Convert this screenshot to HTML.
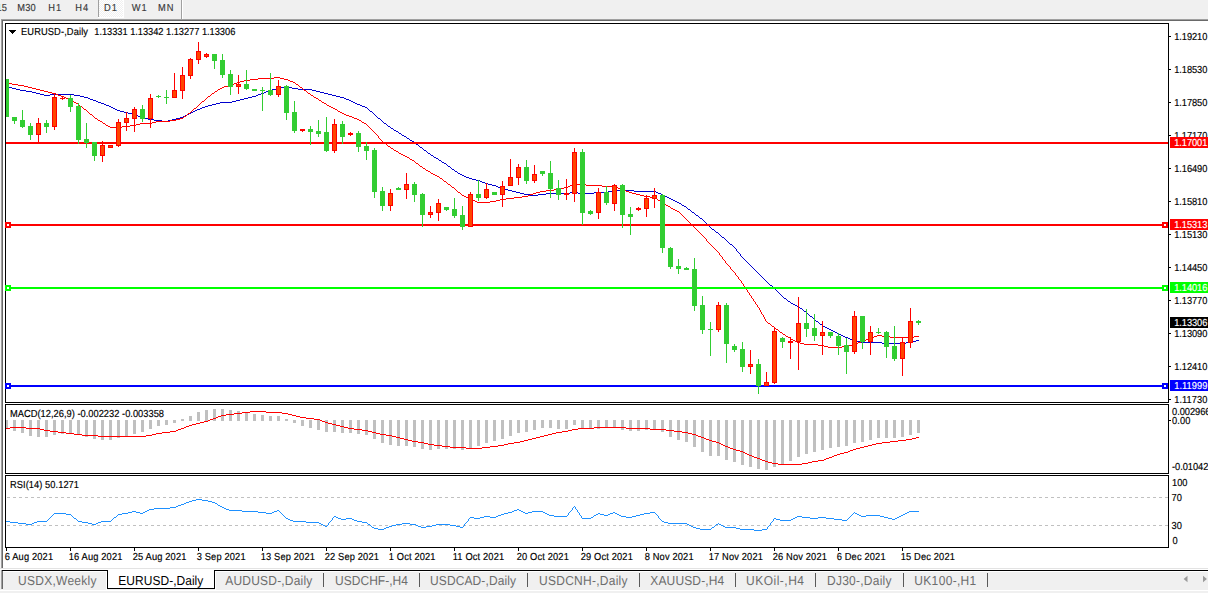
<!DOCTYPE html>
<html><head><meta charset="utf-8"><title>EURUSD-,Daily</title>
<style>html,body{margin:0;padding:0;background:#fff;overflow:hidden}svg{display:block}text{font-family:"Liberation Sans", sans-serif;white-space:pre;text-rendering:geometricPrecision}</style>
</head><body>
<svg width="1208" height="593" viewBox="0 0 1208 593">
<rect x="0" y="0" width="1208" height="593" fill="#ffffff"/>
<rect x="0" y="0" width="1208" height="19" fill="#f0f0f0"/>
<defs><pattern id="chk" width="2" height="2" patternUnits="userSpaceOnUse"><rect width="2" height="2" fill="#f0f0f0"/><rect width="1" height="1" fill="#fff"/><rect x="1" y="1" width="1" height="1" fill="#fff"/></pattern></defs>
<rect x="99" y="0" width="24" height="17" fill="url(#chk)" shape-rendering="crispEdges"/>
<rect x="98" y="0" width="1" height="17" fill="#a0a0a0"/>
<rect x="98" y="17" width="26" height="1" fill="#ffffff"/>
<rect x="123" y="0" width="1" height="17" fill="#ffffff"/>
<rect x="181" y="0" width="1" height="19" fill="#a0a0a0"/>
<rect x="182" y="0" width="1" height="19" fill="#ffffff"/>
<rect x="0" y="19" width="1208" height="1" fill="#a0a0a0"/>
<rect x="0" y="20" width="1208" height="1" fill="#696969"/>
<rect x="0" y="19" width="1" height="549" fill="#f4f4f4"/>
<rect x="1" y="19" width="1" height="549" fill="#a0a0a0"/>
<rect x="2" y="20" width="1" height="548" fill="#696969"/>
<text transform="translate(-3.6,11) scale(1,1.095)" font-size="9.3" fill="#3a3a3a" stroke="#3a3a3a" stroke-width="0.15" letter-spacing="0.3">15</text>
<text transform="translate(17.3,11) scale(1,1.095)" font-size="9.3" fill="#3a3a3a" stroke="#3a3a3a" stroke-width="0.15" letter-spacing="0.1">M30</text>
<text transform="translate(48.3,11) scale(1,1.095)" font-size="9.3" fill="#3a3a3a" stroke="#3a3a3a" stroke-width="0.15" letter-spacing="0.9">H1</text>
<text transform="translate(75.3,11) scale(1,1.095)" font-size="9.3" fill="#3a3a3a" stroke="#3a3a3a" stroke-width="0.15" letter-spacing="1.0">H4</text>
<text transform="translate(104.1,11) scale(1,1.095)" font-size="9.3" fill="#3a3a3a" stroke="#3a3a3a" stroke-width="0.15" letter-spacing="1.0">D1</text>
<text transform="translate(131.8,11) scale(1,1.095)" font-size="9.3" fill="#3a3a3a" stroke="#3a3a3a" stroke-width="0.15" letter-spacing="1.0">W1</text>
<text transform="translate(158.1,11) scale(1,1.095)" font-size="9.3" fill="#3a3a3a" stroke="#3a3a3a" stroke-width="0.15" letter-spacing="1.0">MN</text>
<path d="M6 86.5h2M284 86.5h4M8 87.5h4M280 87.5h4M288 87.5h4M12 88.5h4M276 88.5h4M292 88.5h6M16 89.5h4M272 89.5h4M298 89.5h14M20 90.5h6M269 90.5h3M312 90.5h4M26 91.5h6M266 91.5h3M316 91.5h4M32 92.5h4M264 92.5h2M320 92.5h4M36 93.5h4M261 93.5h3M324 93.5h4M40 94.5h4M50 94.5h24M258 94.5h3M328 94.5h4M44 95.5h6M74 95.5h6M256 95.5h2M332 95.5h4M80 96.5h4M252 96.5h4M336 96.5h4M84 97.5h4M248 97.5h4M340 97.5h4M88 98.5h2M244 98.5h4M344 98.5h2M90 99.5h3M240 99.5h4M346 99.5h3M93 100.5h3M236 100.5h4M349 100.5h2M96 101.5h2M232 101.5h4M351 101.5h2M98 102.5h3M220 102.5h12M353 102.5h2M101 103.5h3M216 103.5h4M355 103.5h2M104 104.5h2M212 104.5h4M357 104.5h3M106 105.5h3M208 105.5h4M360 105.5h2M109 106.5h2M205 106.5h3M362 106.5h3M111 107.5h2M202 107.5h3M365 107.5h2M113 108.5h2M200 108.5h2M367 108.5h1M115 109.5h2M197 109.5h3M368 109.5h1M117 110.5h3M195 110.5h2M369 110.5h1M120 111.5h4M193 111.5h2M370 111.5h2M124 112.5h4M191 112.5h2M372 112.5h1M128 113.5h4M189 113.5h2M373 113.5h1M132 114.5h4M187 114.5h2M374 114.5h1M136 115.5h2M185 115.5h2M375 115.5h1M138 116.5h3M183 116.5h2M376 116.5h1M141 117.5h3M180 117.5h3M377 117.5h1M144 118.5h4M176 118.5h4M378 118.5h2M148 119.5h6M172 119.5h4M380 119.5h1M154 120.5h8M168 120.5h4M381 120.5h1M162 121.5h6M382 121.5h1M383 122.5h1M384 123.5h2M386 124.5h1M387 125.5h1M388 126.5h2M390 127.5h1M391 128.5h2M393 129.5h1M394 130.5h2M396 131.5h2M398 132.5h1M399 133.5h2M401 134.5h1M402 135.5h2M404 136.5h2M406 137.5h1M407 138.5h2M409 139.5h1M410 140.5h2M412 141.5h2M414 142.5h1M415 143.5h1M416 144.5h2M418 145.5h1M419 146.5h1M420 147.5h2M422 148.5h1M423 149.5h1M424 150.5h2M426 151.5h1M427 152.5h1M428 153.5h2M430 154.5h1M431 155.5h2M433 156.5h1M434 157.5h2M436 158.5h2M438 159.5h1M439 160.5h2M441 161.5h1M442 162.5h2M444 163.5h2M446 164.5h1M447 165.5h1M448 166.5h2M450 167.5h1M451 168.5h1M452 169.5h2M454 170.5h1M455 171.5h2M457 172.5h1M458 173.5h2M460 174.5h2M462 175.5h2M464 176.5h2M466 177.5h3M469 178.5h3M472 179.5h4M476 180.5h4M480 181.5h2M482 182.5h3M485 183.5h3M488 184.5h4M492 185.5h4M496 186.5h2M498 187.5h3M501 188.5h3M504 189.5h4M508 190.5h4M612 190.5h22M512 191.5h4M608 191.5h4M634 191.5h22M516 192.5h4M570 192.5h8M594 192.5h14M656 192.5h2M520 193.5h4M546 193.5h24M578 193.5h16M658 193.5h3M524 194.5h6M538 194.5h8M661 194.5h2M530 195.5h8M663 195.5h2M665 196.5h2M667 197.5h2M669 198.5h2M671 199.5h2M673 200.5h2M675 201.5h2M677 202.5h2M679 203.5h2M681 204.5h1M682 205.5h2M684 206.5h2M686 207.5h1M687 208.5h1M688 209.5h2M690 210.5h1M691 211.5h1M692 212.5h2M694 213.5h1M695 214.5h1M696 215.5h2M698 216.5h1M699 217.5h1M700 218.5h2M702 219.5h1M703 220.5h1M704 221.5h1M705 222.5h1M706 223.5h1M707 224.5h1M708 225.5h1M709 226.5h1M710 227.5h1M711 228.5h1M712 229.5h2M714 230.5h1M715 231.5h1M716 232.5h2M718 233.5h1M719 234.5h1M720 235.5h1M721 236.5h1M722 237.5h2M724 238.5h1M725 239.5h1M726 240.5h1M727 241.5h1M728 242.5h1M729 243.5h1M730 244.5h2M732 245.5h1M733 246.5h1M734 247.5h1M735 248.5h1M736 249.5h1M736 250.5h1M737 251.5h1M738 252.5h1M739 253.5h1M740 254.5h1M740 255.5h1M741 256.5h1M742 257.5h1M743 258.5h1M744 259.5h1M745 260.5h1M746 261.5h1M747 262.5h1M748 263.5h1M749 264.5h1M750 265.5h1M751 266.5h1M752 267.5h1M753 268.5h1M754 269.5h1M755 270.5h1M756 271.5h1M757 272.5h1M758 273.5h1M759 274.5h1M760 275.5h1M761 276.5h1M762 277.5h1M763 278.5h1M764 279.5h1M765 280.5h1M766 281.5h1M767 282.5h1M768 283.5h1M769 284.5h1M770 285.5h2M772 286.5h1M773 287.5h1M774 288.5h1M775 289.5h1M776 290.5h1M777 291.5h1M778 292.5h1M779 293.5h1M780 294.5h1M781 295.5h1M782 296.5h1M783 297.5h1M784 298.5h2M786 299.5h1M787 300.5h1M788 301.5h2M790 302.5h1M791 303.5h2M793 304.5h2M795 305.5h2M797 306.5h2M799 307.5h1M800 308.5h2M802 309.5h1M803 310.5h1M804 311.5h2M806 312.5h1M807 313.5h1M808 314.5h1M809 315.5h1M810 316.5h2M812 317.5h1M813 318.5h1M814 319.5h1M815 320.5h1M816 321.5h2M818 322.5h1M819 323.5h1M820 324.5h2M822 325.5h1M823 326.5h2M825 327.5h2M827 328.5h2M829 329.5h2M831 330.5h2M833 331.5h2M835 332.5h2M837 333.5h2M839 334.5h2M841 335.5h2M843 336.5h2M845 337.5h3M848 338.5h2M850 339.5h3M853 340.5h3M916 340.5h3M856 341.5h4M912 341.5h4M860 342.5h22M906 342.5h6M882 343.5h24" fill="none" stroke="#0000cd" stroke-width="1" shape-rendering="crispEdges"/>
<path d="M274 77.5h6M258 78.5h16M280 78.5h4M250 79.5h8M284 79.5h4M244 80.5h6M288 80.5h2M240 81.5h4M290 81.5h3M6 82.5h2M237 82.5h3M293 82.5h2M8 83.5h4M234 83.5h3M295 83.5h1M12 84.5h6M232 84.5h2M296 84.5h2M18 85.5h6M228 85.5h4M298 85.5h1M24 86.5h4M224 86.5h4M299 86.5h1M28 87.5h4M222 87.5h2M300 87.5h2M32 88.5h4M220 88.5h2M302 88.5h1M36 89.5h4M218 89.5h2M303 89.5h1M40 90.5h4M217 90.5h1M304 90.5h2M44 91.5h4M215 91.5h2M306 91.5h1M48 92.5h4M214 92.5h1M307 92.5h1M52 93.5h4M212 93.5h2M308 93.5h2M56 94.5h2M211 94.5h1M310 94.5h1M58 95.5h3M210 95.5h1M311 95.5h2M61 96.5h3M208 96.5h2M313 96.5h1M64 97.5h2M207 97.5h1M314 97.5h2M66 98.5h3M206 98.5h1M316 98.5h2M69 99.5h2M205 99.5h1M318 99.5h1M71 100.5h2M204 100.5h1M319 100.5h2M73 101.5h1M202 101.5h2M321 101.5h1M74 102.5h2M201 102.5h1M322 102.5h2M76 103.5h2M200 103.5h1M324 103.5h2M78 104.5h1M199 104.5h1M326 104.5h1M79 105.5h1M198 105.5h1M327 105.5h2M80 106.5h2M197 106.5h1M329 106.5h2M82 107.5h1M196 107.5h1M331 107.5h2M83 108.5h1M194 108.5h2M333 108.5h2M84 109.5h2M193 109.5h1M335 109.5h2M86 110.5h1M192 110.5h1M337 110.5h1M87 111.5h1M191 111.5h1M338 111.5h2M88 112.5h1M190 112.5h1M340 112.5h2M89 113.5h1M188 113.5h2M342 113.5h2M90 114.5h2M187 114.5h1M344 114.5h2M92 115.5h1M186 115.5h1M346 115.5h3M93 116.5h1M184 116.5h2M349 116.5h3M94 117.5h1M183 117.5h1M352 117.5h2M95 118.5h2M180 118.5h3M354 118.5h3M97 119.5h1M176 119.5h4M357 119.5h2M98 120.5h2M170 120.5h6M359 120.5h2M100 121.5h2M156 121.5h14M361 121.5h1M102 122.5h1M152 122.5h4M362 122.5h2M103 123.5h2M140 123.5h12M364 123.5h2M105 124.5h1M136 124.5h4M366 124.5h1M106 125.5h2M130 125.5h6M367 125.5h1M108 126.5h2M122 126.5h8M368 126.5h1M110 127.5h12M369 127.5h1M370 128.5h1M371 129.5h1M372 130.5h1M373 131.5h1M374 132.5h1M375 133.5h1M376 134.5h1M377 135.5h1M378 136.5h1M378 137.5h1M379 138.5h1M380 139.5h1M381 140.5h1M382 141.5h1M383 142.5h1M384 143.5h2M386 144.5h1M387 145.5h1M388 146.5h2M390 147.5h1M391 148.5h2M393 149.5h1M394 150.5h2M396 151.5h2M398 152.5h1M399 153.5h2M401 154.5h2M403 155.5h2M405 156.5h2M407 157.5h2M409 158.5h1M410 159.5h2M412 160.5h2M414 161.5h1M415 162.5h1M416 163.5h2M418 164.5h1M419 165.5h1M420 166.5h2M422 167.5h1M423 168.5h2M425 169.5h1M426 170.5h2M428 171.5h2M430 172.5h1M431 173.5h2M433 174.5h2M435 175.5h2M437 176.5h2M439 177.5h1M440 178.5h2M442 179.5h1M443 180.5h1M444 181.5h2M446 182.5h1M447 183.5h1M448 184.5h2M573 184.5h13M450 185.5h1M570 185.5h3M586 185.5h16M451 186.5h1M568 186.5h2M602 186.5h14M452 187.5h2M564 187.5h4M616 187.5h2M454 188.5h1M560 188.5h4M618 188.5h3M455 189.5h1M554 189.5h6M621 189.5h3M456 190.5h1M546 190.5h8M624 190.5h2M457 191.5h1M540 191.5h6M626 191.5h3M458 192.5h2M536 192.5h4M629 192.5h3M460 193.5h1M533 193.5h3M632 193.5h4M461 194.5h1M530 194.5h3M636 194.5h4M462 195.5h2M528 195.5h2M640 195.5h4M464 196.5h2M522 196.5h6M644 196.5h6M466 197.5h3M514 197.5h8M650 197.5h5M469 198.5h2M506 198.5h8M655 198.5h2M471 199.5h2M500 199.5h6M657 199.5h1M473 200.5h2M496 200.5h4M658 200.5h2M475 201.5h2M490 201.5h6M660 201.5h2M477 202.5h13M662 202.5h1M663 203.5h2M665 204.5h1M666 205.5h2M668 206.5h2M670 207.5h1M671 208.5h2M673 209.5h2M675 210.5h2M677 211.5h2M679 212.5h1M680 213.5h1M681 214.5h1M682 215.5h1M683 216.5h1M684 217.5h1M685 218.5h1M686 219.5h1M687 220.5h1M688 221.5h1M689 222.5h1M690 223.5h1M691 224.5h1M692 225.5h1M693 226.5h1M694 227.5h1M695 228.5h1M696 229.5h1M697 230.5h1M698 231.5h1M699 232.5h1M700 233.5h1M701 234.5h1M702 235.5h1M703 236.5h1M704 237.5h1M705 238.5h1M706 239.5h1M706 240.5h1M707 241.5h1M708 242.5h1M709 243.5h1M710 244.5h1M711 245.5h1M712 246.5h1M713 247.5h1M714 248.5h1M715 249.5h1M716 250.5h1M717 251.5h1M718 252.5h1M719 253.5h1M719 254.5h1M720 255.5h1M721 256.5h1M722 257.5h1M722 258.5h1M723 259.5h1M724 260.5h1M725 261.5h1M725 262.5h1M726 263.5h1M727 264.5h1M728 265.5h1M729 266.5h1M730 267.5h1M730 268.5h1M731 269.5h1M732 270.5h1M733 271.5h1M734 272.5h1M735 273.5h1M735 274.5h1M736 275.5h1M737 276.5h1M738 277.5h1M738 278.5h1M739 279.5h1M740 280.5h1M741 281.5h1M741 282.5h1M742 283.5h1M743 284.5h1M743 285.5h1M744 286.5h1M745 287.5h1M745 288.5h1M746 289.5h1M747 290.5h1M747 291.5h1M748 292.5h1M749 293.5h1M749 294.5h1M750 295.5h1M751 296.5h1M751 297.5h1M752 298.5h1M753 299.5h1M753 300.5h1M754 301.5h1M755 302.5h1M755 303.5h1M756 304.5h1M757 305.5h1M757 306.5h1M758 307.5h1M759 308.5h1M759 309.5h1M760 310.5h1M760 311.5h1M761 312.5h1M761 313.5h1M762 314.5h1M763 315.5h1M763 316.5h1M764 317.5h1M764 318.5h1M765 319.5h1M765 320.5h1M766 321.5h1M767 322.5h1M768 323.5h2M770 324.5h1M771 325.5h1M772 326.5h2M774 327.5h1M775 328.5h1M776 329.5h2M778 330.5h1M779 331.5h1M780 332.5h2M782 333.5h1M783 334.5h2M785 335.5h1M877 335.5h5M786 336.5h2M874 336.5h3M882 336.5h8M914 336.5h5M788 337.5h2M872 337.5h2M890 337.5h24M790 338.5h1M869 338.5h3M791 339.5h2M866 339.5h3M793 340.5h2M864 340.5h2M795 341.5h2M861 341.5h3M797 342.5h3M858 342.5h3M800 343.5h4M856 343.5h2M804 344.5h14M852 344.5h4M818 345.5h6M848 345.5h4M824 346.5h4M842 346.5h6M828 347.5h14" fill="none" stroke="#ff0000" stroke-width="1" shape-rendering="crispEdges"/>
<g shape-rendering="crispEdges">
<rect x="6" y="142" width="1162" height="2" fill="#ff0000"/>
<rect x="6" y="224" width="1162" height="2" fill="#ff0000"/>
<rect x="5" y="222" width="6" height="6" fill="#ff0000"/>
<rect x="7" y="224" width="2" height="2" fill="#fff"/>
<rect x="1162" y="222" width="6" height="6" fill="#ff0000"/>
<rect x="1164" y="224" width="2" height="2" fill="#fff"/>
<rect x="6" y="287" width="1162" height="2" fill="#00ff00"/>
<rect x="5" y="285" width="6" height="6" fill="#00ff00"/>
<rect x="7" y="287" width="2" height="2" fill="#fff"/>
<rect x="1162" y="285" width="6" height="6" fill="#00ff00"/>
<rect x="1164" y="287" width="2" height="2" fill="#fff"/>
<rect x="6" y="385" width="1162" height="2" fill="#0000ff"/>
<rect x="5" y="383" width="6" height="6" fill="#0000ff"/>
<rect x="7" y="385" width="2" height="2" fill="#fff"/>
<rect x="1162" y="383" width="6" height="6" fill="#0000ff"/>
<rect x="1164" y="385" width="2" height="2" fill="#fff"/>
</g>
<g shape-rendering="crispEdges">
<rect x="6" y="79" width="1" height="38" fill="#32cd32"/>
<rect x="6" y="79" width="3" height="38" fill="#32cd32"/>
<rect x="14" y="117" width="1" height="7" fill="#32cd32"/>
<rect x="12" y="117" width="5" height="4" fill="#32cd32"/>
<rect x="22" y="110" width="1" height="18" fill="#32cd32"/>
<rect x="20" y="120" width="5" height="7" fill="#32cd32"/>
<rect x="30" y="123" width="1" height="17" fill="#32cd32"/>
<rect x="28" y="126" width="5" height="9" fill="#32cd32"/>
<rect x="38" y="118" width="1" height="24" fill="#ff0000"/>
<rect x="36" y="123" width="5" height="12" fill="#ff0000"/>
<rect x="37" y="124" width="3" height="10" fill="#ff4500"/>
<rect x="46" y="120" width="1" height="13" fill="#32cd32"/>
<rect x="44" y="123" width="5" height="4" fill="#32cd32"/>
<rect x="54" y="93" width="1" height="37" fill="#ff0000"/>
<rect x="52" y="97" width="5" height="30" fill="#ff0000"/>
<rect x="53" y="98" width="3" height="28" fill="#ff4500"/>
<rect x="62" y="97" width="1" height="3" fill="#ff0000"/>
<rect x="60" y="98" width="5" height="1" fill="#ff0000"/>
<rect x="70" y="95" width="1" height="17" fill="#32cd32"/>
<rect x="68" y="98" width="5" height="9" fill="#32cd32"/>
<rect x="78" y="103" width="1" height="41" fill="#32cd32"/>
<rect x="76" y="106" width="5" height="34" fill="#32cd32"/>
<rect x="86" y="123" width="1" height="25" fill="#32cd32"/>
<rect x="84" y="139" width="5" height="4" fill="#32cd32"/>
<rect x="94" y="142" width="1" height="19" fill="#32cd32"/>
<rect x="92" y="142" width="5" height="14" fill="#32cd32"/>
<rect x="102" y="141" width="1" height="21" fill="#ff0000"/>
<rect x="100" y="145" width="5" height="11" fill="#ff0000"/>
<rect x="101" y="146" width="3" height="9" fill="#ff4500"/>
<rect x="110" y="145" width="1" height="3" fill="#ff0000"/>
<rect x="108" y="145" width="5" height="3" fill="#ff0000"/>
<rect x="109" y="146" width="3" height="1" fill="#ff4500"/>
<rect x="118" y="119" width="1" height="28" fill="#ff0000"/>
<rect x="116" y="122" width="5" height="24" fill="#ff0000"/>
<rect x="117" y="123" width="3" height="22" fill="#ff4500"/>
<rect x="126" y="112" width="1" height="19" fill="#ff0000"/>
<rect x="124" y="118" width="5" height="5" fill="#ff0000"/>
<rect x="125" y="119" width="3" height="3" fill="#ff4500"/>
<rect x="134" y="107" width="1" height="25" fill="#ff0000"/>
<rect x="132" y="109" width="5" height="10" fill="#ff0000"/>
<rect x="133" y="110" width="3" height="8" fill="#ff4500"/>
<rect x="142" y="105" width="1" height="17" fill="#32cd32"/>
<rect x="140" y="109" width="5" height="10" fill="#32cd32"/>
<rect x="150" y="94" width="1" height="34" fill="#ff0000"/>
<rect x="148" y="98" width="5" height="21" fill="#ff0000"/>
<rect x="149" y="99" width="3" height="19" fill="#ff4500"/>
<rect x="158" y="95" width="1" height="3" fill="#32cd32"/>
<rect x="156" y="96" width="5" height="1" fill="#32cd32"/>
<rect x="166" y="90" width="1" height="14" fill="#32cd32"/>
<rect x="164" y="97" width="5" height="1" fill="#32cd32"/>
<rect x="174" y="73" width="1" height="25" fill="#ff0000"/>
<rect x="172" y="90" width="5" height="8" fill="#ff0000"/>
<rect x="173" y="91" width="3" height="6" fill="#ff4500"/>
<rect x="182" y="67" width="1" height="32" fill="#ff0000"/>
<rect x="180" y="75" width="5" height="16" fill="#ff0000"/>
<rect x="181" y="76" width="3" height="14" fill="#ff4500"/>
<rect x="190" y="58" width="1" height="21" fill="#ff0000"/>
<rect x="188" y="59" width="5" height="17" fill="#ff0000"/>
<rect x="189" y="60" width="3" height="15" fill="#ff4500"/>
<rect x="198" y="42" width="1" height="22" fill="#ff0000"/>
<rect x="196" y="51" width="5" height="9" fill="#ff0000"/>
<rect x="197" y="52" width="3" height="7" fill="#ff4500"/>
<rect x="206" y="53" width="1" height="5" fill="#ff0000"/>
<rect x="204" y="54" width="5" height="3" fill="#ff0000"/>
<rect x="205" y="55" width="3" height="1" fill="#ff4500"/>
<rect x="214" y="54" width="1" height="15" fill="#32cd32"/>
<rect x="212" y="54" width="5" height="7" fill="#32cd32"/>
<rect x="222" y="54" width="1" height="24" fill="#32cd32"/>
<rect x="220" y="60" width="5" height="15" fill="#32cd32"/>
<rect x="230" y="70" width="1" height="25" fill="#32cd32"/>
<rect x="228" y="74" width="5" height="13" fill="#32cd32"/>
<rect x="238" y="75" width="1" height="19" fill="#ff0000"/>
<rect x="236" y="84" width="5" height="3" fill="#ff0000"/>
<rect x="237" y="85" width="3" height="1" fill="#ff4500"/>
<rect x="246" y="70" width="1" height="20" fill="#32cd32"/>
<rect x="244" y="84" width="5" height="5" fill="#32cd32"/>
<rect x="254" y="89" width="1" height="2" fill="#32cd32"/>
<rect x="252" y="89" width="5" height="2" fill="#32cd32"/>
<rect x="262" y="87" width="1" height="24" fill="#32cd32"/>
<rect x="260" y="90" width="5" height="1" fill="#32cd32"/>
<rect x="270" y="73" width="1" height="23" fill="#32cd32"/>
<rect x="268" y="90" width="5" height="5" fill="#32cd32"/>
<rect x="278" y="80" width="1" height="17" fill="#ff0000"/>
<rect x="276" y="86" width="5" height="9" fill="#ff0000"/>
<rect x="277" y="87" width="3" height="7" fill="#ff4500"/>
<rect x="286" y="85" width="1" height="35" fill="#32cd32"/>
<rect x="284" y="86" width="5" height="27" fill="#32cd32"/>
<rect x="294" y="101" width="1" height="32" fill="#32cd32"/>
<rect x="292" y="112" width="5" height="19" fill="#32cd32"/>
<rect x="302" y="129" width="1" height="3" fill="#ff0000"/>
<rect x="300" y="129" width="5" height="2" fill="#ff0000"/>
<rect x="310" y="126" width="1" height="19" fill="#32cd32"/>
<rect x="308" y="129" width="5" height="3" fill="#32cd32"/>
<rect x="318" y="120" width="1" height="17" fill="#32cd32"/>
<rect x="316" y="131" width="5" height="3" fill="#32cd32"/>
<rect x="326" y="117" width="1" height="35" fill="#32cd32"/>
<rect x="324" y="132" width="5" height="19" fill="#32cd32"/>
<rect x="334" y="119" width="1" height="34" fill="#ff0000"/>
<rect x="332" y="124" width="5" height="27" fill="#ff0000"/>
<rect x="333" y="125" width="3" height="25" fill="#ff4500"/>
<rect x="342" y="121" width="1" height="23" fill="#32cd32"/>
<rect x="340" y="124" width="5" height="13" fill="#32cd32"/>
<rect x="350" y="132" width="1" height="4" fill="#ff0000"/>
<rect x="348" y="133" width="5" height="2" fill="#ff0000"/>
<rect x="358" y="131" width="1" height="21" fill="#32cd32"/>
<rect x="356" y="133" width="5" height="14" fill="#32cd32"/>
<rect x="366" y="142" width="1" height="18" fill="#32cd32"/>
<rect x="364" y="146" width="5" height="5" fill="#32cd32"/>
<rect x="374" y="148" width="1" height="50" fill="#32cd32"/>
<rect x="372" y="150" width="5" height="42" fill="#32cd32"/>
<rect x="382" y="187" width="1" height="24" fill="#32cd32"/>
<rect x="380" y="191" width="5" height="15" fill="#32cd32"/>
<rect x="390" y="189" width="1" height="22" fill="#ff0000"/>
<rect x="388" y="193" width="5" height="13" fill="#ff0000"/>
<rect x="389" y="194" width="3" height="11" fill="#ff4500"/>
<rect x="398" y="187" width="1" height="3" fill="#32cd32"/>
<rect x="396" y="188" width="5" height="2" fill="#32cd32"/>
<rect x="406" y="173" width="1" height="26" fill="#ff0000"/>
<rect x="404" y="184" width="5" height="6" fill="#ff0000"/>
<rect x="405" y="185" width="3" height="4" fill="#ff4500"/>
<rect x="414" y="182" width="1" height="20" fill="#32cd32"/>
<rect x="412" y="184" width="5" height="11" fill="#32cd32"/>
<rect x="422" y="193" width="1" height="34" fill="#32cd32"/>
<rect x="420" y="194" width="5" height="21" fill="#32cd32"/>
<rect x="430" y="206" width="1" height="12" fill="#ff0000"/>
<rect x="428" y="212" width="5" height="3" fill="#ff0000"/>
<rect x="429" y="213" width="3" height="1" fill="#ff4500"/>
<rect x="438" y="199" width="1" height="22" fill="#ff0000"/>
<rect x="436" y="203" width="5" height="10" fill="#ff0000"/>
<rect x="437" y="204" width="3" height="8" fill="#ff4500"/>
<rect x="446" y="207" width="1" height="4" fill="#32cd32"/>
<rect x="444" y="207" width="5" height="3" fill="#32cd32"/>
<rect x="454" y="198" width="1" height="20" fill="#32cd32"/>
<rect x="452" y="209" width="5" height="7" fill="#32cd32"/>
<rect x="462" y="206" width="1" height="24" fill="#32cd32"/>
<rect x="460" y="215" width="5" height="12" fill="#32cd32"/>
<rect x="470" y="192" width="1" height="35" fill="#ff0000"/>
<rect x="468" y="194" width="5" height="33" fill="#ff0000"/>
<rect x="469" y="195" width="3" height="31" fill="#ff4500"/>
<rect x="478" y="180" width="1" height="21" fill="#32cd32"/>
<rect x="476" y="194" width="5" height="4" fill="#32cd32"/>
<rect x="486" y="183" width="1" height="16" fill="#ff0000"/>
<rect x="484" y="189" width="5" height="9" fill="#ff0000"/>
<rect x="485" y="190" width="3" height="7" fill="#ff4500"/>
<rect x="494" y="192" width="1" height="3" fill="#32cd32"/>
<rect x="492" y="192" width="5" height="3" fill="#32cd32"/>
<rect x="502" y="181" width="1" height="26" fill="#ff0000"/>
<rect x="500" y="186" width="5" height="9" fill="#ff0000"/>
<rect x="501" y="187" width="3" height="7" fill="#ff4500"/>
<rect x="510" y="159" width="1" height="27" fill="#ff0000"/>
<rect x="508" y="177" width="5" height="9" fill="#ff0000"/>
<rect x="509" y="178" width="3" height="7" fill="#ff4500"/>
<rect x="518" y="164" width="1" height="21" fill="#ff0000"/>
<rect x="516" y="167" width="5" height="11" fill="#ff0000"/>
<rect x="517" y="168" width="3" height="9" fill="#ff4500"/>
<rect x="526" y="160" width="1" height="24" fill="#32cd32"/>
<rect x="524" y="167" width="5" height="14" fill="#32cd32"/>
<rect x="534" y="165" width="1" height="18" fill="#ff0000"/>
<rect x="532" y="174" width="5" height="7" fill="#ff0000"/>
<rect x="533" y="175" width="3" height="5" fill="#ff4500"/>
<rect x="542" y="171" width="1" height="5" fill="#32cd32"/>
<rect x="540" y="171" width="5" height="3" fill="#32cd32"/>
<rect x="550" y="161" width="1" height="37" fill="#32cd32"/>
<rect x="548" y="173" width="5" height="16" fill="#32cd32"/>
<rect x="558" y="180" width="1" height="20" fill="#32cd32"/>
<rect x="556" y="188" width="5" height="7" fill="#32cd32"/>
<rect x="566" y="179" width="1" height="21" fill="#ff0000"/>
<rect x="564" y="193" width="5" height="2" fill="#ff0000"/>
<rect x="574" y="148" width="1" height="54" fill="#ff0000"/>
<rect x="572" y="152" width="5" height="42" fill="#ff0000"/>
<rect x="573" y="153" width="3" height="40" fill="#ff4500"/>
<rect x="582" y="149" width="1" height="76" fill="#32cd32"/>
<rect x="580" y="152" width="5" height="61" fill="#32cd32"/>
<rect x="590" y="210" width="1" height="5" fill="#32cd32"/>
<rect x="588" y="211" width="5" height="3" fill="#32cd32"/>
<rect x="598" y="188" width="1" height="31" fill="#ff0000"/>
<rect x="596" y="192" width="5" height="21" fill="#ff0000"/>
<rect x="597" y="193" width="3" height="19" fill="#ff4500"/>
<rect x="606" y="186" width="1" height="19" fill="#32cd32"/>
<rect x="604" y="192" width="5" height="11" fill="#32cd32"/>
<rect x="614" y="184" width="1" height="27" fill="#ff0000"/>
<rect x="612" y="185" width="5" height="19" fill="#ff0000"/>
<rect x="613" y="186" width="3" height="17" fill="#ff4500"/>
<rect x="622" y="184" width="1" height="44" fill="#32cd32"/>
<rect x="620" y="185" width="5" height="30" fill="#32cd32"/>
<rect x="630" y="207" width="1" height="28" fill="#32cd32"/>
<rect x="628" y="214" width="5" height="3" fill="#32cd32"/>
<rect x="638" y="207" width="1" height="4" fill="#ff0000"/>
<rect x="636" y="208" width="5" height="2" fill="#ff0000"/>
<rect x="646" y="195" width="1" height="22" fill="#ff0000"/>
<rect x="644" y="198" width="5" height="11" fill="#ff0000"/>
<rect x="645" y="199" width="3" height="9" fill="#ff4500"/>
<rect x="654" y="188" width="1" height="20" fill="#ff0000"/>
<rect x="652" y="195" width="5" height="4" fill="#ff0000"/>
<rect x="653" y="196" width="3" height="2" fill="#ff4500"/>
<rect x="662" y="194" width="1" height="59" fill="#32cd32"/>
<rect x="660" y="195" width="5" height="53" fill="#32cd32"/>
<rect x="670" y="247" width="1" height="22" fill="#32cd32"/>
<rect x="668" y="248" width="5" height="19" fill="#32cd32"/>
<rect x="678" y="259" width="1" height="15" fill="#32cd32"/>
<rect x="676" y="266" width="5" height="3" fill="#32cd32"/>
<rect x="686" y="267" width="1" height="3" fill="#32cd32"/>
<rect x="684" y="268" width="5" height="2" fill="#32cd32"/>
<rect x="694" y="258" width="1" height="53" fill="#32cd32"/>
<rect x="692" y="269" width="5" height="37" fill="#32cd32"/>
<rect x="702" y="296" width="1" height="38" fill="#32cd32"/>
<rect x="700" y="305" width="5" height="25" fill="#32cd32"/>
<rect x="710" y="322" width="1" height="34" fill="#32cd32"/>
<rect x="708" y="329" width="5" height="1" fill="#32cd32"/>
<rect x="718" y="302" width="1" height="30" fill="#ff0000"/>
<rect x="716" y="305" width="5" height="25" fill="#ff0000"/>
<rect x="717" y="306" width="3" height="23" fill="#ff4500"/>
<rect x="726" y="303" width="1" height="60" fill="#32cd32"/>
<rect x="724" y="305" width="5" height="39" fill="#32cd32"/>
<rect x="734" y="344" width="1" height="8" fill="#32cd32"/>
<rect x="732" y="346" width="5" height="4" fill="#32cd32"/>
<rect x="742" y="342" width="1" height="30" fill="#32cd32"/>
<rect x="740" y="349" width="5" height="18" fill="#32cd32"/>
<rect x="750" y="350" width="1" height="24" fill="#ff0000"/>
<rect x="748" y="364" width="5" height="3" fill="#ff0000"/>
<rect x="749" y="365" width="3" height="1" fill="#ff4500"/>
<rect x="758" y="359" width="1" height="35" fill="#32cd32"/>
<rect x="756" y="364" width="5" height="22" fill="#32cd32"/>
<rect x="766" y="372" width="1" height="14" fill="#ff0000"/>
<rect x="764" y="382" width="5" height="4" fill="#ff0000"/>
<rect x="765" y="383" width="3" height="2" fill="#ff4500"/>
<rect x="774" y="328" width="1" height="56" fill="#ff0000"/>
<rect x="772" y="331" width="5" height="52" fill="#ff0000"/>
<rect x="773" y="332" width="3" height="50" fill="#ff4500"/>
<rect x="782" y="337" width="1" height="11" fill="#32cd32"/>
<rect x="780" y="338" width="5" height="4" fill="#32cd32"/>
<rect x="790" y="337" width="1" height="22" fill="#ff0000"/>
<rect x="788" y="341" width="5" height="2" fill="#ff0000"/>
<rect x="798" y="297" width="1" height="73" fill="#ff0000"/>
<rect x="796" y="323" width="5" height="19" fill="#ff0000"/>
<rect x="797" y="324" width="3" height="17" fill="#ff4500"/>
<rect x="806" y="309" width="1" height="28" fill="#32cd32"/>
<rect x="804" y="323" width="5" height="6" fill="#32cd32"/>
<rect x="814" y="314" width="1" height="27" fill="#32cd32"/>
<rect x="812" y="328" width="5" height="8" fill="#32cd32"/>
<rect x="822" y="321" width="1" height="34" fill="#ff0000"/>
<rect x="820" y="332" width="5" height="4" fill="#ff0000"/>
<rect x="821" y="333" width="3" height="2" fill="#ff4500"/>
<rect x="830" y="332" width="1" height="6" fill="#32cd32"/>
<rect x="828" y="332" width="5" height="4" fill="#32cd32"/>
<rect x="838" y="333" width="1" height="22" fill="#32cd32"/>
<rect x="836" y="336" width="5" height="10" fill="#32cd32"/>
<rect x="846" y="338" width="1" height="36" fill="#32cd32"/>
<rect x="844" y="345" width="5" height="7" fill="#32cd32"/>
<rect x="854" y="311" width="1" height="43" fill="#ff0000"/>
<rect x="852" y="316" width="5" height="36" fill="#ff0000"/>
<rect x="853" y="317" width="3" height="34" fill="#ff4500"/>
<rect x="862" y="316" width="1" height="33" fill="#32cd32"/>
<rect x="860" y="316" width="5" height="26" fill="#32cd32"/>
<rect x="870" y="326" width="1" height="29" fill="#ff0000"/>
<rect x="868" y="332" width="5" height="10" fill="#ff0000"/>
<rect x="869" y="333" width="3" height="8" fill="#ff4500"/>
<rect x="878" y="328" width="1" height="6" fill="#32cd32"/>
<rect x="876" y="332" width="5" height="1" fill="#32cd32"/>
<rect x="886" y="331" width="1" height="27" fill="#32cd32"/>
<rect x="884" y="332" width="5" height="15" fill="#32cd32"/>
<rect x="894" y="326" width="1" height="35" fill="#32cd32"/>
<rect x="892" y="346" width="5" height="13" fill="#32cd32"/>
<rect x="902" y="338" width="1" height="38" fill="#ff0000"/>
<rect x="900" y="342" width="5" height="17" fill="#ff0000"/>
<rect x="901" y="343" width="3" height="15" fill="#ff4500"/>
<rect x="910" y="308" width="1" height="40" fill="#ff0000"/>
<rect x="908" y="321" width="5" height="22" fill="#ff0000"/>
<rect x="909" y="322" width="3" height="20" fill="#ff4500"/>
<rect x="918" y="320" width="1" height="5" fill="#32cd32"/>
<rect x="916" y="321" width="5" height="2" fill="#32cd32"/>
</g>
<g shape-rendering="crispEdges">
<rect x="6" y="420" width="2" height="8" fill="#c0c0c0"/>
<rect x="13" y="420" width="3" height="11" fill="#c0c0c0"/>
<rect x="21" y="420" width="3" height="13" fill="#c0c0c0"/>
<rect x="29" y="420" width="3" height="16" fill="#c0c0c0"/>
<rect x="37" y="420" width="3" height="17" fill="#c0c0c0"/>
<rect x="45" y="420" width="3" height="17" fill="#c0c0c0"/>
<rect x="53" y="420" width="3" height="15" fill="#c0c0c0"/>
<rect x="61" y="420" width="3" height="14" fill="#c0c0c0"/>
<rect x="69" y="420" width="3" height="13" fill="#c0c0c0"/>
<rect x="77" y="420" width="3" height="14" fill="#c0c0c0"/>
<rect x="85" y="420" width="3" height="17" fill="#c0c0c0"/>
<rect x="93" y="420" width="3" height="19" fill="#c0c0c0"/>
<rect x="101" y="420" width="3" height="20" fill="#c0c0c0"/>
<rect x="109" y="420" width="3" height="20" fill="#c0c0c0"/>
<rect x="117" y="420" width="3" height="18" fill="#c0c0c0"/>
<rect x="125" y="420" width="3" height="16" fill="#c0c0c0"/>
<rect x="133" y="420" width="3" height="14" fill="#c0c0c0"/>
<rect x="141" y="420" width="3" height="12" fill="#c0c0c0"/>
<rect x="149" y="420" width="3" height="9" fill="#c0c0c0"/>
<rect x="157" y="420" width="3" height="6" fill="#c0c0c0"/>
<rect x="165" y="420" width="3" height="5" fill="#c0c0c0"/>
<rect x="173" y="420" width="3" height="3" fill="#c0c0c0"/>
<rect x="293" y="420" width="3" height="3" fill="#c0c0c0"/>
<rect x="301" y="420" width="3" height="6" fill="#c0c0c0"/>
<rect x="309" y="420" width="3" height="8" fill="#c0c0c0"/>
<rect x="317" y="420" width="3" height="10" fill="#c0c0c0"/>
<rect x="325" y="420" width="3" height="12" fill="#c0c0c0"/>
<rect x="333" y="420" width="3" height="12" fill="#c0c0c0"/>
<rect x="341" y="420" width="3" height="13" fill="#c0c0c0"/>
<rect x="349" y="420" width="3" height="13" fill="#c0c0c0"/>
<rect x="357" y="420" width="3" height="14" fill="#c0c0c0"/>
<rect x="365" y="420" width="3" height="15" fill="#c0c0c0"/>
<rect x="373" y="420" width="3" height="19" fill="#c0c0c0"/>
<rect x="381" y="420" width="3" height="23" fill="#c0c0c0"/>
<rect x="389" y="420" width="3" height="25" fill="#c0c0c0"/>
<rect x="397" y="420" width="3" height="26" fill="#c0c0c0"/>
<rect x="405" y="420" width="3" height="26" fill="#c0c0c0"/>
<rect x="413" y="420" width="3" height="27" fill="#c0c0c0"/>
<rect x="421" y="420" width="3" height="29" fill="#c0c0c0"/>
<rect x="429" y="420" width="3" height="30" fill="#c0c0c0"/>
<rect x="437" y="420" width="3" height="29" fill="#c0c0c0"/>
<rect x="445" y="420" width="3" height="29" fill="#c0c0c0"/>
<rect x="453" y="420" width="3" height="29" fill="#c0c0c0"/>
<rect x="461" y="420" width="3" height="30" fill="#c0c0c0"/>
<rect x="469" y="420" width="3" height="28" fill="#c0c0c0"/>
<rect x="477" y="420" width="3" height="26" fill="#c0c0c0"/>
<rect x="485" y="420" width="3" height="23" fill="#c0c0c0"/>
<rect x="493" y="420" width="3" height="21" fill="#c0c0c0"/>
<rect x="501" y="420" width="3" height="19" fill="#c0c0c0"/>
<rect x="509" y="420" width="3" height="16" fill="#c0c0c0"/>
<rect x="517" y="420" width="3" height="13" fill="#c0c0c0"/>
<rect x="525" y="420" width="3" height="12" fill="#c0c0c0"/>
<rect x="533" y="420" width="3" height="10" fill="#c0c0c0"/>
<rect x="541" y="420" width="3" height="8" fill="#c0c0c0"/>
<rect x="549" y="420" width="3" height="8" fill="#c0c0c0"/>
<rect x="557" y="420" width="3" height="9" fill="#c0c0c0"/>
<rect x="565" y="420" width="3" height="9" fill="#c0c0c0"/>
<rect x="573" y="420" width="3" height="5" fill="#c0c0c0"/>
<rect x="581" y="420" width="3" height="8" fill="#c0c0c0"/>
<rect x="589" y="420" width="3" height="8" fill="#c0c0c0"/>
<rect x="597" y="420" width="3" height="9" fill="#c0c0c0"/>
<rect x="605" y="420" width="3" height="8" fill="#c0c0c0"/>
<rect x="613" y="420" width="3" height="8" fill="#c0c0c0"/>
<rect x="621" y="420" width="3" height="10" fill="#c0c0c0"/>
<rect x="629" y="420" width="3" height="11" fill="#c0c0c0"/>
<rect x="637" y="420" width="3" height="11" fill="#c0c0c0"/>
<rect x="645" y="420" width="3" height="10" fill="#c0c0c0"/>
<rect x="653" y="420" width="3" height="9" fill="#c0c0c0"/>
<rect x="661" y="420" width="3" height="12" fill="#c0c0c0"/>
<rect x="669" y="420" width="3" height="17" fill="#c0c0c0"/>
<rect x="677" y="420" width="3" height="20" fill="#c0c0c0"/>
<rect x="685" y="420" width="3" height="22" fill="#c0c0c0"/>
<rect x="693" y="420" width="3" height="27" fill="#c0c0c0"/>
<rect x="701" y="420" width="3" height="32" fill="#c0c0c0"/>
<rect x="709" y="420" width="3" height="36" fill="#c0c0c0"/>
<rect x="717" y="420" width="3" height="36" fill="#c0c0c0"/>
<rect x="725" y="420" width="3" height="40" fill="#c0c0c0"/>
<rect x="733" y="420" width="3" height="42" fill="#c0c0c0"/>
<rect x="741" y="420" width="3" height="45" fill="#c0c0c0"/>
<rect x="749" y="420" width="3" height="47" fill="#c0c0c0"/>
<rect x="757" y="420" width="3" height="49" fill="#c0c0c0"/>
<rect x="765" y="420" width="3" height="50" fill="#c0c0c0"/>
<rect x="773" y="420" width="3" height="47" fill="#c0c0c0"/>
<rect x="781" y="420" width="3" height="44" fill="#c0c0c0"/>
<rect x="789" y="420" width="3" height="41" fill="#c0c0c0"/>
<rect x="797" y="420" width="3" height="37" fill="#c0c0c0"/>
<rect x="805" y="420" width="3" height="34" fill="#c0c0c0"/>
<rect x="813" y="420" width="3" height="32" fill="#c0c0c0"/>
<rect x="821" y="420" width="3" height="30" fill="#c0c0c0"/>
<rect x="829" y="420" width="3" height="28" fill="#c0c0c0"/>
<rect x="837" y="420" width="3" height="27" fill="#c0c0c0"/>
<rect x="845" y="420" width="3" height="26" fill="#c0c0c0"/>
<rect x="853" y="420" width="3" height="23" fill="#c0c0c0"/>
<rect x="861" y="420" width="3" height="22" fill="#c0c0c0"/>
<rect x="869" y="420" width="3" height="20" fill="#c0c0c0"/>
<rect x="877" y="420" width="3" height="18" fill="#c0c0c0"/>
<rect x="885" y="420" width="3" height="18" fill="#c0c0c0"/>
<rect x="893" y="420" width="3" height="18" fill="#c0c0c0"/>
<rect x="901" y="420" width="3" height="17" fill="#c0c0c0"/>
<rect x="909" y="420" width="3" height="15" fill="#c0c0c0"/>
<rect x="917" y="420" width="3" height="13" fill="#c0c0c0"/>
<rect x="181" y="419" width="3" height="2" fill="#c0c0c0"/>
<rect x="189" y="416" width="3" height="5" fill="#c0c0c0"/>
<rect x="197" y="412" width="3" height="9" fill="#c0c0c0"/>
<rect x="205" y="410" width="3" height="11" fill="#c0c0c0"/>
<rect x="213" y="409" width="3" height="12" fill="#c0c0c0"/>
<rect x="221" y="409" width="3" height="12" fill="#c0c0c0"/>
<rect x="229" y="410" width="3" height="11" fill="#c0c0c0"/>
<rect x="237" y="411" width="3" height="10" fill="#c0c0c0"/>
<rect x="245" y="413" width="3" height="8" fill="#c0c0c0"/>
<rect x="253" y="414" width="3" height="7" fill="#c0c0c0"/>
<rect x="261" y="415" width="3" height="6" fill="#c0c0c0"/>
<rect x="269" y="416" width="3" height="5" fill="#c0c0c0"/>
<rect x="277" y="416" width="3" height="5" fill="#c0c0c0"/>
<rect x="285" y="419" width="3" height="2" fill="#c0c0c0"/>
</g>
<path d="M250 411.5h16M242 412.5h8M266 412.5h16M234 413.5h8M282 413.5h6M226 414.5h8M288 414.5h4M221 415.5h5M292 415.5h4M218 416.5h3M296 416.5h4M216 417.5h2M300 417.5h6M213 418.5h3M306 418.5h8M210 419.5h3M314 419.5h6M208 420.5h2M320 420.5h2M204 421.5h4M322 421.5h3M200 422.5h4M325 422.5h3M196 423.5h4M328 423.5h4M192 424.5h4M332 424.5h4M189 425.5h3M336 425.5h4M186 426.5h3M340 426.5h4M10 427.5h16M184 427.5h2M344 427.5h4M594 427.5h32M6 428.5h4M26 428.5h14M181 428.5h3M348 428.5h6M578 428.5h16M626 428.5h24M40 429.5h4M178 429.5h3M354 429.5h8M572 429.5h6M650 429.5h16M44 430.5h6M176 430.5h2M362 430.5h6M568 430.5h4M666 430.5h8M50 431.5h8M170 431.5h6M368 431.5h4M562 431.5h6M674 431.5h8M58 432.5h8M162 432.5h8M372 432.5h4M556 432.5h6M682 432.5h6M66 433.5h8M156 433.5h6M376 433.5h4M552 433.5h4M688 433.5h4M74 434.5h8M152 434.5h4M380 434.5h6M548 434.5h4M692 434.5h4M82 435.5h16M146 435.5h6M386 435.5h6M544 435.5h4M696 435.5h2M98 436.5h48M392 436.5h4M540 436.5h4M698 436.5h3M396 437.5h4M536 437.5h4M701 437.5h3M916 437.5h3M400 438.5h4M532 438.5h4M704 438.5h2M912 438.5h4M404 439.5h4M528 439.5h4M706 439.5h3M906 439.5h6M408 440.5h4M524 440.5h4M709 440.5h3M898 440.5h8M412 441.5h6M520 441.5h4M712 441.5h4M890 441.5h8M418 442.5h6M514 442.5h6M716 442.5h3M882 442.5h8M424 443.5h4M508 443.5h6M719 443.5h2M876 443.5h6M428 444.5h6M504 444.5h4M721 444.5h2M872 444.5h4M434 445.5h8M498 445.5h6M723 445.5h2M868 445.5h4M442 446.5h8M490 446.5h8M725 446.5h3M864 446.5h4M450 447.5h16M482 447.5h8M728 447.5h2M860 447.5h4M466 448.5h16M730 448.5h3M856 448.5h4M733 449.5h3M853 449.5h3M736 450.5h4M850 450.5h3M740 451.5h3M848 451.5h2M743 452.5h2M844 452.5h4M745 453.5h2M840 453.5h4M747 454.5h2M837 454.5h3M749 455.5h3M834 455.5h3M752 456.5h2M832 456.5h2M754 457.5h3M829 457.5h3M757 458.5h3M826 458.5h3M760 459.5h2M824 459.5h2M762 460.5h3M818 460.5h6M765 461.5h3M812 461.5h6M768 462.5h4M808 462.5h4M772 463.5h6M802 463.5h6M778 464.5h24" fill="none" stroke="#ff0000" stroke-width="1" shape-rendering="crispEdges"/>
<g shape-rendering="crispEdges">
<rect x="7" y="497" width="3" height="1" fill="#c0c0c0"/>
<rect x="13" y="497" width="3" height="1" fill="#c0c0c0"/>
<rect x="19" y="497" width="3" height="1" fill="#c0c0c0"/>
<rect x="25" y="497" width="3" height="1" fill="#c0c0c0"/>
<rect x="31" y="497" width="3" height="1" fill="#c0c0c0"/>
<rect x="37" y="497" width="3" height="1" fill="#c0c0c0"/>
<rect x="43" y="497" width="3" height="1" fill="#c0c0c0"/>
<rect x="49" y="497" width="3" height="1" fill="#c0c0c0"/>
<rect x="55" y="497" width="3" height="1" fill="#c0c0c0"/>
<rect x="61" y="497" width="3" height="1" fill="#c0c0c0"/>
<rect x="67" y="497" width="3" height="1" fill="#c0c0c0"/>
<rect x="73" y="497" width="3" height="1" fill="#c0c0c0"/>
<rect x="79" y="497" width="3" height="1" fill="#c0c0c0"/>
<rect x="85" y="497" width="3" height="1" fill="#c0c0c0"/>
<rect x="91" y="497" width="3" height="1" fill="#c0c0c0"/>
<rect x="97" y="497" width="3" height="1" fill="#c0c0c0"/>
<rect x="103" y="497" width="3" height="1" fill="#c0c0c0"/>
<rect x="109" y="497" width="3" height="1" fill="#c0c0c0"/>
<rect x="115" y="497" width="3" height="1" fill="#c0c0c0"/>
<rect x="121" y="497" width="3" height="1" fill="#c0c0c0"/>
<rect x="127" y="497" width="3" height="1" fill="#c0c0c0"/>
<rect x="133" y="497" width="3" height="1" fill="#c0c0c0"/>
<rect x="139" y="497" width="3" height="1" fill="#c0c0c0"/>
<rect x="145" y="497" width="3" height="1" fill="#c0c0c0"/>
<rect x="151" y="497" width="3" height="1" fill="#c0c0c0"/>
<rect x="157" y="497" width="3" height="1" fill="#c0c0c0"/>
<rect x="163" y="497" width="3" height="1" fill="#c0c0c0"/>
<rect x="169" y="497" width="3" height="1" fill="#c0c0c0"/>
<rect x="175" y="497" width="3" height="1" fill="#c0c0c0"/>
<rect x="181" y="497" width="3" height="1" fill="#c0c0c0"/>
<rect x="187" y="497" width="3" height="1" fill="#c0c0c0"/>
<rect x="193" y="497" width="3" height="1" fill="#c0c0c0"/>
<rect x="199" y="497" width="3" height="1" fill="#c0c0c0"/>
<rect x="205" y="497" width="3" height="1" fill="#c0c0c0"/>
<rect x="211" y="497" width="3" height="1" fill="#c0c0c0"/>
<rect x="217" y="497" width="3" height="1" fill="#c0c0c0"/>
<rect x="223" y="497" width="3" height="1" fill="#c0c0c0"/>
<rect x="229" y="497" width="3" height="1" fill="#c0c0c0"/>
<rect x="235" y="497" width="3" height="1" fill="#c0c0c0"/>
<rect x="241" y="497" width="3" height="1" fill="#c0c0c0"/>
<rect x="247" y="497" width="3" height="1" fill="#c0c0c0"/>
<rect x="253" y="497" width="3" height="1" fill="#c0c0c0"/>
<rect x="259" y="497" width="3" height="1" fill="#c0c0c0"/>
<rect x="265" y="497" width="3" height="1" fill="#c0c0c0"/>
<rect x="271" y="497" width="3" height="1" fill="#c0c0c0"/>
<rect x="277" y="497" width="3" height="1" fill="#c0c0c0"/>
<rect x="283" y="497" width="3" height="1" fill="#c0c0c0"/>
<rect x="289" y="497" width="3" height="1" fill="#c0c0c0"/>
<rect x="295" y="497" width="3" height="1" fill="#c0c0c0"/>
<rect x="301" y="497" width="3" height="1" fill="#c0c0c0"/>
<rect x="307" y="497" width="3" height="1" fill="#c0c0c0"/>
<rect x="313" y="497" width="3" height="1" fill="#c0c0c0"/>
<rect x="319" y="497" width="3" height="1" fill="#c0c0c0"/>
<rect x="325" y="497" width="3" height="1" fill="#c0c0c0"/>
<rect x="331" y="497" width="3" height="1" fill="#c0c0c0"/>
<rect x="337" y="497" width="3" height="1" fill="#c0c0c0"/>
<rect x="343" y="497" width="3" height="1" fill="#c0c0c0"/>
<rect x="349" y="497" width="3" height="1" fill="#c0c0c0"/>
<rect x="355" y="497" width="3" height="1" fill="#c0c0c0"/>
<rect x="361" y="497" width="3" height="1" fill="#c0c0c0"/>
<rect x="367" y="497" width="3" height="1" fill="#c0c0c0"/>
<rect x="373" y="497" width="3" height="1" fill="#c0c0c0"/>
<rect x="379" y="497" width="3" height="1" fill="#c0c0c0"/>
<rect x="385" y="497" width="3" height="1" fill="#c0c0c0"/>
<rect x="391" y="497" width="3" height="1" fill="#c0c0c0"/>
<rect x="397" y="497" width="3" height="1" fill="#c0c0c0"/>
<rect x="403" y="497" width="3" height="1" fill="#c0c0c0"/>
<rect x="409" y="497" width="3" height="1" fill="#c0c0c0"/>
<rect x="415" y="497" width="3" height="1" fill="#c0c0c0"/>
<rect x="421" y="497" width="3" height="1" fill="#c0c0c0"/>
<rect x="427" y="497" width="3" height="1" fill="#c0c0c0"/>
<rect x="433" y="497" width="3" height="1" fill="#c0c0c0"/>
<rect x="439" y="497" width="3" height="1" fill="#c0c0c0"/>
<rect x="445" y="497" width="3" height="1" fill="#c0c0c0"/>
<rect x="451" y="497" width="3" height="1" fill="#c0c0c0"/>
<rect x="457" y="497" width="3" height="1" fill="#c0c0c0"/>
<rect x="463" y="497" width="3" height="1" fill="#c0c0c0"/>
<rect x="469" y="497" width="3" height="1" fill="#c0c0c0"/>
<rect x="475" y="497" width="3" height="1" fill="#c0c0c0"/>
<rect x="481" y="497" width="3" height="1" fill="#c0c0c0"/>
<rect x="487" y="497" width="3" height="1" fill="#c0c0c0"/>
<rect x="493" y="497" width="3" height="1" fill="#c0c0c0"/>
<rect x="499" y="497" width="3" height="1" fill="#c0c0c0"/>
<rect x="505" y="497" width="3" height="1" fill="#c0c0c0"/>
<rect x="511" y="497" width="3" height="1" fill="#c0c0c0"/>
<rect x="517" y="497" width="3" height="1" fill="#c0c0c0"/>
<rect x="523" y="497" width="3" height="1" fill="#c0c0c0"/>
<rect x="529" y="497" width="3" height="1" fill="#c0c0c0"/>
<rect x="535" y="497" width="3" height="1" fill="#c0c0c0"/>
<rect x="541" y="497" width="3" height="1" fill="#c0c0c0"/>
<rect x="547" y="497" width="3" height="1" fill="#c0c0c0"/>
<rect x="553" y="497" width="3" height="1" fill="#c0c0c0"/>
<rect x="559" y="497" width="3" height="1" fill="#c0c0c0"/>
<rect x="565" y="497" width="3" height="1" fill="#c0c0c0"/>
<rect x="571" y="497" width="3" height="1" fill="#c0c0c0"/>
<rect x="577" y="497" width="3" height="1" fill="#c0c0c0"/>
<rect x="583" y="497" width="3" height="1" fill="#c0c0c0"/>
<rect x="589" y="497" width="3" height="1" fill="#c0c0c0"/>
<rect x="595" y="497" width="3" height="1" fill="#c0c0c0"/>
<rect x="601" y="497" width="3" height="1" fill="#c0c0c0"/>
<rect x="607" y="497" width="3" height="1" fill="#c0c0c0"/>
<rect x="613" y="497" width="3" height="1" fill="#c0c0c0"/>
<rect x="619" y="497" width="3" height="1" fill="#c0c0c0"/>
<rect x="625" y="497" width="3" height="1" fill="#c0c0c0"/>
<rect x="631" y="497" width="3" height="1" fill="#c0c0c0"/>
<rect x="637" y="497" width="3" height="1" fill="#c0c0c0"/>
<rect x="643" y="497" width="3" height="1" fill="#c0c0c0"/>
<rect x="649" y="497" width="3" height="1" fill="#c0c0c0"/>
<rect x="655" y="497" width="3" height="1" fill="#c0c0c0"/>
<rect x="661" y="497" width="3" height="1" fill="#c0c0c0"/>
<rect x="667" y="497" width="3" height="1" fill="#c0c0c0"/>
<rect x="673" y="497" width="3" height="1" fill="#c0c0c0"/>
<rect x="679" y="497" width="3" height="1" fill="#c0c0c0"/>
<rect x="685" y="497" width="3" height="1" fill="#c0c0c0"/>
<rect x="691" y="497" width="3" height="1" fill="#c0c0c0"/>
<rect x="697" y="497" width="3" height="1" fill="#c0c0c0"/>
<rect x="703" y="497" width="3" height="1" fill="#c0c0c0"/>
<rect x="709" y="497" width="3" height="1" fill="#c0c0c0"/>
<rect x="715" y="497" width="3" height="1" fill="#c0c0c0"/>
<rect x="721" y="497" width="3" height="1" fill="#c0c0c0"/>
<rect x="727" y="497" width="3" height="1" fill="#c0c0c0"/>
<rect x="733" y="497" width="3" height="1" fill="#c0c0c0"/>
<rect x="739" y="497" width="3" height="1" fill="#c0c0c0"/>
<rect x="745" y="497" width="3" height="1" fill="#c0c0c0"/>
<rect x="751" y="497" width="3" height="1" fill="#c0c0c0"/>
<rect x="757" y="497" width="3" height="1" fill="#c0c0c0"/>
<rect x="763" y="497" width="3" height="1" fill="#c0c0c0"/>
<rect x="769" y="497" width="3" height="1" fill="#c0c0c0"/>
<rect x="775" y="497" width="3" height="1" fill="#c0c0c0"/>
<rect x="781" y="497" width="3" height="1" fill="#c0c0c0"/>
<rect x="787" y="497" width="3" height="1" fill="#c0c0c0"/>
<rect x="793" y="497" width="3" height="1" fill="#c0c0c0"/>
<rect x="799" y="497" width="3" height="1" fill="#c0c0c0"/>
<rect x="805" y="497" width="3" height="1" fill="#c0c0c0"/>
<rect x="811" y="497" width="3" height="1" fill="#c0c0c0"/>
<rect x="817" y="497" width="3" height="1" fill="#c0c0c0"/>
<rect x="823" y="497" width="3" height="1" fill="#c0c0c0"/>
<rect x="829" y="497" width="3" height="1" fill="#c0c0c0"/>
<rect x="835" y="497" width="3" height="1" fill="#c0c0c0"/>
<rect x="841" y="497" width="3" height="1" fill="#c0c0c0"/>
<rect x="847" y="497" width="3" height="1" fill="#c0c0c0"/>
<rect x="853" y="497" width="3" height="1" fill="#c0c0c0"/>
<rect x="859" y="497" width="3" height="1" fill="#c0c0c0"/>
<rect x="865" y="497" width="3" height="1" fill="#c0c0c0"/>
<rect x="871" y="497" width="3" height="1" fill="#c0c0c0"/>
<rect x="877" y="497" width="3" height="1" fill="#c0c0c0"/>
<rect x="883" y="497" width="3" height="1" fill="#c0c0c0"/>
<rect x="889" y="497" width="3" height="1" fill="#c0c0c0"/>
<rect x="895" y="497" width="3" height="1" fill="#c0c0c0"/>
<rect x="901" y="497" width="3" height="1" fill="#c0c0c0"/>
<rect x="907" y="497" width="3" height="1" fill="#c0c0c0"/>
<rect x="913" y="497" width="3" height="1" fill="#c0c0c0"/>
<rect x="919" y="497" width="3" height="1" fill="#c0c0c0"/>
<rect x="925" y="497" width="3" height="1" fill="#c0c0c0"/>
<rect x="931" y="497" width="3" height="1" fill="#c0c0c0"/>
<rect x="937" y="497" width="3" height="1" fill="#c0c0c0"/>
<rect x="943" y="497" width="3" height="1" fill="#c0c0c0"/>
<rect x="949" y="497" width="3" height="1" fill="#c0c0c0"/>
<rect x="955" y="497" width="3" height="1" fill="#c0c0c0"/>
<rect x="961" y="497" width="3" height="1" fill="#c0c0c0"/>
<rect x="967" y="497" width="3" height="1" fill="#c0c0c0"/>
<rect x="973" y="497" width="3" height="1" fill="#c0c0c0"/>
<rect x="979" y="497" width="3" height="1" fill="#c0c0c0"/>
<rect x="985" y="497" width="3" height="1" fill="#c0c0c0"/>
<rect x="991" y="497" width="3" height="1" fill="#c0c0c0"/>
<rect x="997" y="497" width="3" height="1" fill="#c0c0c0"/>
<rect x="1003" y="497" width="3" height="1" fill="#c0c0c0"/>
<rect x="1009" y="497" width="3" height="1" fill="#c0c0c0"/>
<rect x="1015" y="497" width="3" height="1" fill="#c0c0c0"/>
<rect x="1021" y="497" width="3" height="1" fill="#c0c0c0"/>
<rect x="1027" y="497" width="3" height="1" fill="#c0c0c0"/>
<rect x="1033" y="497" width="3" height="1" fill="#c0c0c0"/>
<rect x="1039" y="497" width="3" height="1" fill="#c0c0c0"/>
<rect x="1045" y="497" width="3" height="1" fill="#c0c0c0"/>
<rect x="1051" y="497" width="3" height="1" fill="#c0c0c0"/>
<rect x="1057" y="497" width="3" height="1" fill="#c0c0c0"/>
<rect x="1063" y="497" width="3" height="1" fill="#c0c0c0"/>
<rect x="1069" y="497" width="3" height="1" fill="#c0c0c0"/>
<rect x="1075" y="497" width="3" height="1" fill="#c0c0c0"/>
<rect x="1081" y="497" width="3" height="1" fill="#c0c0c0"/>
<rect x="1087" y="497" width="3" height="1" fill="#c0c0c0"/>
<rect x="1093" y="497" width="3" height="1" fill="#c0c0c0"/>
<rect x="1099" y="497" width="3" height="1" fill="#c0c0c0"/>
<rect x="1105" y="497" width="3" height="1" fill="#c0c0c0"/>
<rect x="1111" y="497" width="3" height="1" fill="#c0c0c0"/>
<rect x="1117" y="497" width="3" height="1" fill="#c0c0c0"/>
<rect x="1123" y="497" width="3" height="1" fill="#c0c0c0"/>
<rect x="1129" y="497" width="3" height="1" fill="#c0c0c0"/>
<rect x="1135" y="497" width="3" height="1" fill="#c0c0c0"/>
<rect x="1141" y="497" width="3" height="1" fill="#c0c0c0"/>
<rect x="1147" y="497" width="3" height="1" fill="#c0c0c0"/>
<rect x="1153" y="497" width="3" height="1" fill="#c0c0c0"/>
<rect x="1159" y="497" width="3" height="1" fill="#c0c0c0"/>
<rect x="1165" y="497" width="3" height="1" fill="#c0c0c0"/>
<rect x="7" y="525" width="3" height="1" fill="#c0c0c0"/>
<rect x="13" y="525" width="3" height="1" fill="#c0c0c0"/>
<rect x="19" y="525" width="3" height="1" fill="#c0c0c0"/>
<rect x="25" y="525" width="3" height="1" fill="#c0c0c0"/>
<rect x="31" y="525" width="3" height="1" fill="#c0c0c0"/>
<rect x="37" y="525" width="3" height="1" fill="#c0c0c0"/>
<rect x="43" y="525" width="3" height="1" fill="#c0c0c0"/>
<rect x="49" y="525" width="3" height="1" fill="#c0c0c0"/>
<rect x="55" y="525" width="3" height="1" fill="#c0c0c0"/>
<rect x="61" y="525" width="3" height="1" fill="#c0c0c0"/>
<rect x="67" y="525" width="3" height="1" fill="#c0c0c0"/>
<rect x="73" y="525" width="3" height="1" fill="#c0c0c0"/>
<rect x="79" y="525" width="3" height="1" fill="#c0c0c0"/>
<rect x="85" y="525" width="3" height="1" fill="#c0c0c0"/>
<rect x="91" y="525" width="3" height="1" fill="#c0c0c0"/>
<rect x="97" y="525" width="3" height="1" fill="#c0c0c0"/>
<rect x="103" y="525" width="3" height="1" fill="#c0c0c0"/>
<rect x="109" y="525" width="3" height="1" fill="#c0c0c0"/>
<rect x="115" y="525" width="3" height="1" fill="#c0c0c0"/>
<rect x="121" y="525" width="3" height="1" fill="#c0c0c0"/>
<rect x="127" y="525" width="3" height="1" fill="#c0c0c0"/>
<rect x="133" y="525" width="3" height="1" fill="#c0c0c0"/>
<rect x="139" y="525" width="3" height="1" fill="#c0c0c0"/>
<rect x="145" y="525" width="3" height="1" fill="#c0c0c0"/>
<rect x="151" y="525" width="3" height="1" fill="#c0c0c0"/>
<rect x="157" y="525" width="3" height="1" fill="#c0c0c0"/>
<rect x="163" y="525" width="3" height="1" fill="#c0c0c0"/>
<rect x="169" y="525" width="3" height="1" fill="#c0c0c0"/>
<rect x="175" y="525" width="3" height="1" fill="#c0c0c0"/>
<rect x="181" y="525" width="3" height="1" fill="#c0c0c0"/>
<rect x="187" y="525" width="3" height="1" fill="#c0c0c0"/>
<rect x="193" y="525" width="3" height="1" fill="#c0c0c0"/>
<rect x="199" y="525" width="3" height="1" fill="#c0c0c0"/>
<rect x="205" y="525" width="3" height="1" fill="#c0c0c0"/>
<rect x="211" y="525" width="3" height="1" fill="#c0c0c0"/>
<rect x="217" y="525" width="3" height="1" fill="#c0c0c0"/>
<rect x="223" y="525" width="3" height="1" fill="#c0c0c0"/>
<rect x="229" y="525" width="3" height="1" fill="#c0c0c0"/>
<rect x="235" y="525" width="3" height="1" fill="#c0c0c0"/>
<rect x="241" y="525" width="3" height="1" fill="#c0c0c0"/>
<rect x="247" y="525" width="3" height="1" fill="#c0c0c0"/>
<rect x="253" y="525" width="3" height="1" fill="#c0c0c0"/>
<rect x="259" y="525" width="3" height="1" fill="#c0c0c0"/>
<rect x="265" y="525" width="3" height="1" fill="#c0c0c0"/>
<rect x="271" y="525" width="3" height="1" fill="#c0c0c0"/>
<rect x="277" y="525" width="3" height="1" fill="#c0c0c0"/>
<rect x="283" y="525" width="3" height="1" fill="#c0c0c0"/>
<rect x="289" y="525" width="3" height="1" fill="#c0c0c0"/>
<rect x="295" y="525" width="3" height="1" fill="#c0c0c0"/>
<rect x="301" y="525" width="3" height="1" fill="#c0c0c0"/>
<rect x="307" y="525" width="3" height="1" fill="#c0c0c0"/>
<rect x="313" y="525" width="3" height="1" fill="#c0c0c0"/>
<rect x="319" y="525" width="3" height="1" fill="#c0c0c0"/>
<rect x="325" y="525" width="3" height="1" fill="#c0c0c0"/>
<rect x="331" y="525" width="3" height="1" fill="#c0c0c0"/>
<rect x="337" y="525" width="3" height="1" fill="#c0c0c0"/>
<rect x="343" y="525" width="3" height="1" fill="#c0c0c0"/>
<rect x="349" y="525" width="3" height="1" fill="#c0c0c0"/>
<rect x="355" y="525" width="3" height="1" fill="#c0c0c0"/>
<rect x="361" y="525" width="3" height="1" fill="#c0c0c0"/>
<rect x="367" y="525" width="3" height="1" fill="#c0c0c0"/>
<rect x="373" y="525" width="3" height="1" fill="#c0c0c0"/>
<rect x="379" y="525" width="3" height="1" fill="#c0c0c0"/>
<rect x="385" y="525" width="3" height="1" fill="#c0c0c0"/>
<rect x="391" y="525" width="3" height="1" fill="#c0c0c0"/>
<rect x="397" y="525" width="3" height="1" fill="#c0c0c0"/>
<rect x="403" y="525" width="3" height="1" fill="#c0c0c0"/>
<rect x="409" y="525" width="3" height="1" fill="#c0c0c0"/>
<rect x="415" y="525" width="3" height="1" fill="#c0c0c0"/>
<rect x="421" y="525" width="3" height="1" fill="#c0c0c0"/>
<rect x="427" y="525" width="3" height="1" fill="#c0c0c0"/>
<rect x="433" y="525" width="3" height="1" fill="#c0c0c0"/>
<rect x="439" y="525" width="3" height="1" fill="#c0c0c0"/>
<rect x="445" y="525" width="3" height="1" fill="#c0c0c0"/>
<rect x="451" y="525" width="3" height="1" fill="#c0c0c0"/>
<rect x="457" y="525" width="3" height="1" fill="#c0c0c0"/>
<rect x="463" y="525" width="3" height="1" fill="#c0c0c0"/>
<rect x="469" y="525" width="3" height="1" fill="#c0c0c0"/>
<rect x="475" y="525" width="3" height="1" fill="#c0c0c0"/>
<rect x="481" y="525" width="3" height="1" fill="#c0c0c0"/>
<rect x="487" y="525" width="3" height="1" fill="#c0c0c0"/>
<rect x="493" y="525" width="3" height="1" fill="#c0c0c0"/>
<rect x="499" y="525" width="3" height="1" fill="#c0c0c0"/>
<rect x="505" y="525" width="3" height="1" fill="#c0c0c0"/>
<rect x="511" y="525" width="3" height="1" fill="#c0c0c0"/>
<rect x="517" y="525" width="3" height="1" fill="#c0c0c0"/>
<rect x="523" y="525" width="3" height="1" fill="#c0c0c0"/>
<rect x="529" y="525" width="3" height="1" fill="#c0c0c0"/>
<rect x="535" y="525" width="3" height="1" fill="#c0c0c0"/>
<rect x="541" y="525" width="3" height="1" fill="#c0c0c0"/>
<rect x="547" y="525" width="3" height="1" fill="#c0c0c0"/>
<rect x="553" y="525" width="3" height="1" fill="#c0c0c0"/>
<rect x="559" y="525" width="3" height="1" fill="#c0c0c0"/>
<rect x="565" y="525" width="3" height="1" fill="#c0c0c0"/>
<rect x="571" y="525" width="3" height="1" fill="#c0c0c0"/>
<rect x="577" y="525" width="3" height="1" fill="#c0c0c0"/>
<rect x="583" y="525" width="3" height="1" fill="#c0c0c0"/>
<rect x="589" y="525" width="3" height="1" fill="#c0c0c0"/>
<rect x="595" y="525" width="3" height="1" fill="#c0c0c0"/>
<rect x="601" y="525" width="3" height="1" fill="#c0c0c0"/>
<rect x="607" y="525" width="3" height="1" fill="#c0c0c0"/>
<rect x="613" y="525" width="3" height="1" fill="#c0c0c0"/>
<rect x="619" y="525" width="3" height="1" fill="#c0c0c0"/>
<rect x="625" y="525" width="3" height="1" fill="#c0c0c0"/>
<rect x="631" y="525" width="3" height="1" fill="#c0c0c0"/>
<rect x="637" y="525" width="3" height="1" fill="#c0c0c0"/>
<rect x="643" y="525" width="3" height="1" fill="#c0c0c0"/>
<rect x="649" y="525" width="3" height="1" fill="#c0c0c0"/>
<rect x="655" y="525" width="3" height="1" fill="#c0c0c0"/>
<rect x="661" y="525" width="3" height="1" fill="#c0c0c0"/>
<rect x="667" y="525" width="3" height="1" fill="#c0c0c0"/>
<rect x="673" y="525" width="3" height="1" fill="#c0c0c0"/>
<rect x="679" y="525" width="3" height="1" fill="#c0c0c0"/>
<rect x="685" y="525" width="3" height="1" fill="#c0c0c0"/>
<rect x="691" y="525" width="3" height="1" fill="#c0c0c0"/>
<rect x="697" y="525" width="3" height="1" fill="#c0c0c0"/>
<rect x="703" y="525" width="3" height="1" fill="#c0c0c0"/>
<rect x="709" y="525" width="3" height="1" fill="#c0c0c0"/>
<rect x="715" y="525" width="3" height="1" fill="#c0c0c0"/>
<rect x="721" y="525" width="3" height="1" fill="#c0c0c0"/>
<rect x="727" y="525" width="3" height="1" fill="#c0c0c0"/>
<rect x="733" y="525" width="3" height="1" fill="#c0c0c0"/>
<rect x="739" y="525" width="3" height="1" fill="#c0c0c0"/>
<rect x="745" y="525" width="3" height="1" fill="#c0c0c0"/>
<rect x="751" y="525" width="3" height="1" fill="#c0c0c0"/>
<rect x="757" y="525" width="3" height="1" fill="#c0c0c0"/>
<rect x="763" y="525" width="3" height="1" fill="#c0c0c0"/>
<rect x="769" y="525" width="3" height="1" fill="#c0c0c0"/>
<rect x="775" y="525" width="3" height="1" fill="#c0c0c0"/>
<rect x="781" y="525" width="3" height="1" fill="#c0c0c0"/>
<rect x="787" y="525" width="3" height="1" fill="#c0c0c0"/>
<rect x="793" y="525" width="3" height="1" fill="#c0c0c0"/>
<rect x="799" y="525" width="3" height="1" fill="#c0c0c0"/>
<rect x="805" y="525" width="3" height="1" fill="#c0c0c0"/>
<rect x="811" y="525" width="3" height="1" fill="#c0c0c0"/>
<rect x="817" y="525" width="3" height="1" fill="#c0c0c0"/>
<rect x="823" y="525" width="3" height="1" fill="#c0c0c0"/>
<rect x="829" y="525" width="3" height="1" fill="#c0c0c0"/>
<rect x="835" y="525" width="3" height="1" fill="#c0c0c0"/>
<rect x="841" y="525" width="3" height="1" fill="#c0c0c0"/>
<rect x="847" y="525" width="3" height="1" fill="#c0c0c0"/>
<rect x="853" y="525" width="3" height="1" fill="#c0c0c0"/>
<rect x="859" y="525" width="3" height="1" fill="#c0c0c0"/>
<rect x="865" y="525" width="3" height="1" fill="#c0c0c0"/>
<rect x="871" y="525" width="3" height="1" fill="#c0c0c0"/>
<rect x="877" y="525" width="3" height="1" fill="#c0c0c0"/>
<rect x="883" y="525" width="3" height="1" fill="#c0c0c0"/>
<rect x="889" y="525" width="3" height="1" fill="#c0c0c0"/>
<rect x="895" y="525" width="3" height="1" fill="#c0c0c0"/>
<rect x="901" y="525" width="3" height="1" fill="#c0c0c0"/>
<rect x="907" y="525" width="3" height="1" fill="#c0c0c0"/>
<rect x="913" y="525" width="3" height="1" fill="#c0c0c0"/>
<rect x="919" y="525" width="3" height="1" fill="#c0c0c0"/>
<rect x="925" y="525" width="3" height="1" fill="#c0c0c0"/>
<rect x="931" y="525" width="3" height="1" fill="#c0c0c0"/>
<rect x="937" y="525" width="3" height="1" fill="#c0c0c0"/>
<rect x="943" y="525" width="3" height="1" fill="#c0c0c0"/>
<rect x="949" y="525" width="3" height="1" fill="#c0c0c0"/>
<rect x="955" y="525" width="3" height="1" fill="#c0c0c0"/>
<rect x="961" y="525" width="3" height="1" fill="#c0c0c0"/>
<rect x="967" y="525" width="3" height="1" fill="#c0c0c0"/>
<rect x="973" y="525" width="3" height="1" fill="#c0c0c0"/>
<rect x="979" y="525" width="3" height="1" fill="#c0c0c0"/>
<rect x="985" y="525" width="3" height="1" fill="#c0c0c0"/>
<rect x="991" y="525" width="3" height="1" fill="#c0c0c0"/>
<rect x="997" y="525" width="3" height="1" fill="#c0c0c0"/>
<rect x="1003" y="525" width="3" height="1" fill="#c0c0c0"/>
<rect x="1009" y="525" width="3" height="1" fill="#c0c0c0"/>
<rect x="1015" y="525" width="3" height="1" fill="#c0c0c0"/>
<rect x="1021" y="525" width="3" height="1" fill="#c0c0c0"/>
<rect x="1027" y="525" width="3" height="1" fill="#c0c0c0"/>
<rect x="1033" y="525" width="3" height="1" fill="#c0c0c0"/>
<rect x="1039" y="525" width="3" height="1" fill="#c0c0c0"/>
<rect x="1045" y="525" width="3" height="1" fill="#c0c0c0"/>
<rect x="1051" y="525" width="3" height="1" fill="#c0c0c0"/>
<rect x="1057" y="525" width="3" height="1" fill="#c0c0c0"/>
<rect x="1063" y="525" width="3" height="1" fill="#c0c0c0"/>
<rect x="1069" y="525" width="3" height="1" fill="#c0c0c0"/>
<rect x="1075" y="525" width="3" height="1" fill="#c0c0c0"/>
<rect x="1081" y="525" width="3" height="1" fill="#c0c0c0"/>
<rect x="1087" y="525" width="3" height="1" fill="#c0c0c0"/>
<rect x="1093" y="525" width="3" height="1" fill="#c0c0c0"/>
<rect x="1099" y="525" width="3" height="1" fill="#c0c0c0"/>
<rect x="1105" y="525" width="3" height="1" fill="#c0c0c0"/>
<rect x="1111" y="525" width="3" height="1" fill="#c0c0c0"/>
<rect x="1117" y="525" width="3" height="1" fill="#c0c0c0"/>
<rect x="1123" y="525" width="3" height="1" fill="#c0c0c0"/>
<rect x="1129" y="525" width="3" height="1" fill="#c0c0c0"/>
<rect x="1135" y="525" width="3" height="1" fill="#c0c0c0"/>
<rect x="1141" y="525" width="3" height="1" fill="#c0c0c0"/>
<rect x="1147" y="525" width="3" height="1" fill="#c0c0c0"/>
<rect x="1153" y="525" width="3" height="1" fill="#c0c0c0"/>
<rect x="1159" y="525" width="3" height="1" fill="#c0c0c0"/>
<rect x="1165" y="525" width="3" height="1" fill="#c0c0c0"/>
</g>
<path d="M196 499.5h6M192 500.5h4M202 500.5h6M189 501.5h3M208 501.5h4M186 502.5h3M212 502.5h3M184 503.5h2M215 503.5h2M181 504.5h3M217 504.5h1M178 505.5h3M218 505.5h2M176 506.5h2M220 506.5h2M574 506.5h1M170 507.5h6M222 507.5h2M573 507.5h1M575 507.5h1M154 508.5h16M224 508.5h2M572 508.5h1M575 508.5h1M149 509.5h5M226 509.5h3M517 509.5h2M572 509.5h1M576 509.5h1M147 510.5h2M229 510.5h13M277 510.5h2M514 510.5h3M519 510.5h2M571 510.5h1M577 510.5h1M132 511.5h4M145 511.5h2M242 511.5h16M274 511.5h3M279 511.5h1M512 511.5h2M521 511.5h2M532 511.5h11M570 511.5h1M577 511.5h1M909 511.5h10M128 512.5h4M136 512.5h4M143 512.5h2M258 512.5h8M272 512.5h2M280 512.5h1M508 512.5h4M523 512.5h2M528 512.5h4M543 512.5h2M569 512.5h1M578 512.5h1M613 512.5h2M650 512.5h5M854 512.5h1M907 512.5h2M54 513.5h12M122 513.5h6M140 513.5h3M266 513.5h6M281 513.5h1M504 513.5h4M525 513.5h3M545 513.5h2M568 513.5h1M579 513.5h1M598 513.5h2M610 513.5h3M615 513.5h2M644 513.5h6M655 513.5h1M853 513.5h1M855 513.5h2M905 513.5h2M53 514.5h1M66 514.5h5M118 514.5h4M282 514.5h1M501 514.5h3M547 514.5h2M568 514.5h1M579 514.5h1M596 514.5h2M600 514.5h4M608 514.5h2M617 514.5h2M640 514.5h4M656 514.5h1M852 514.5h1M857 514.5h2M903 514.5h2M52 515.5h1M71 515.5h1M117 515.5h1M283 515.5h1M498 515.5h3M549 515.5h5M567 515.5h1M580 515.5h1M594 515.5h2M604 515.5h4M619 515.5h2M636 515.5h4M657 515.5h1M851 515.5h1M859 515.5h2M866 515.5h14M901 515.5h2M51 516.5h1M72 516.5h1M116 516.5h1M284 516.5h1M334 516.5h2M484 516.5h6M496 516.5h2M554 516.5h13M581 516.5h1M593 516.5h1M621 516.5h5M632 516.5h4M658 516.5h1M797 516.5h5M850 516.5h1M861 516.5h5M880 516.5h4M899 516.5h2M50 517.5h1M73 517.5h1M114 517.5h2M285 517.5h1M333 517.5h1M336 517.5h2M470 517.5h4M480 517.5h4M490 517.5h6M581 517.5h1M591 517.5h2M626 517.5h6M658 517.5h1M795 517.5h2M802 517.5h8M818 517.5h8M849 517.5h1M884 517.5h4M897 517.5h2M49 518.5h1M74 518.5h2M113 518.5h1M286 518.5h2M332 518.5h1M338 518.5h3M346 518.5h6M469 518.5h1M474 518.5h6M582 518.5h9M659 518.5h1M774 518.5h2M793 518.5h2M810 518.5h8M826 518.5h8M848 518.5h1M888 518.5h4M895 518.5h2M48 519.5h1M76 519.5h1M112 519.5h1M288 519.5h2M332 519.5h1M341 519.5h5M352 519.5h2M468 519.5h1M660 519.5h1M773 519.5h1M776 519.5h4M791 519.5h2M834 519.5h8M847 519.5h1M892 519.5h3M47 520.5h1M77 520.5h1M111 520.5h1M290 520.5h3M331 520.5h1M354 520.5h3M468 520.5h1M661 520.5h1M773 520.5h1M780 520.5h11M842 520.5h5M6 521.5h4M37 521.5h10M78 521.5h4M101 521.5h10M293 521.5h13M330 521.5h1M357 521.5h5M467 521.5h1M662 521.5h2M772 521.5h1M10 522.5h8M34 522.5h3M82 522.5h6M98 522.5h3M306 522.5h13M329 522.5h1M362 522.5h5M466 522.5h1M664 522.5h4M771 522.5h1M18 523.5h8M32 523.5h2M88 523.5h4M96 523.5h2M319 523.5h2M328 523.5h1M367 523.5h1M402 523.5h8M465 523.5h1M668 523.5h19M718 523.5h1M770 523.5h1M26 524.5h6M92 524.5h4M321 524.5h2M328 524.5h1M368 524.5h2M396 524.5h6M410 524.5h6M436 524.5h14M464 524.5h1M687 524.5h2M716 524.5h2M719 524.5h2M770 524.5h1M323 525.5h2M327 525.5h1M370 525.5h1M392 525.5h4M416 525.5h2M432 525.5h4M450 525.5h6M464 525.5h1M689 525.5h2M715 525.5h1M721 525.5h2M769 525.5h1M325 526.5h2M371 526.5h1M389 526.5h3M418 526.5h3M426 526.5h6M456 526.5h4M463 526.5h1M691 526.5h2M714 526.5h1M723 526.5h2M768 526.5h1M372 527.5h2M386 527.5h3M421 527.5h5M460 527.5h3M693 527.5h3M712 527.5h2M725 527.5h11M767 527.5h1M374 528.5h4M384 528.5h2M696 528.5h4M711 528.5h1M736 528.5h4M767 528.5h1M378 529.5h6M700 529.5h11M740 529.5h14M762 529.5h5M754 530.5h8" fill="none" stroke="#1e90ff" stroke-width="1" shape-rendering="crispEdges"/>
<g shape-rendering="crispEdges">
<rect x="5" y="23" width="1164" height="1" fill="#000"/>
<rect x="5" y="402" width="1164" height="1" fill="#000"/>
<rect x="5" y="23" width="1" height="380" fill="#000"/>
<rect x="1168" y="23" width="1" height="380" fill="#000"/>
<rect x="5" y="404" width="1164" height="1" fill="#000"/>
<rect x="5" y="473" width="1164" height="1" fill="#000"/>
<rect x="5" y="404" width="1" height="70" fill="#000"/>
<rect x="1168" y="404" width="1" height="70" fill="#000"/>
<rect x="5" y="475" width="1164" height="1" fill="#000"/>
<rect x="5" y="547" width="1164" height="1" fill="#000"/>
<rect x="5" y="475" width="1" height="73" fill="#000"/>
<rect x="1168" y="475" width="1" height="73" fill="#000"/>
<rect x="5" y="222" width="6" height="6" fill="#ff0000"/>
<rect x="7" y="224" width="2" height="2" fill="#fff"/>
<rect x="1162" y="222" width="6" height="6" fill="#ff0000"/>
<rect x="1164" y="224" width="2" height="2" fill="#fff"/>
<rect x="5" y="285" width="6" height="6" fill="#00ff00"/>
<rect x="7" y="287" width="2" height="2" fill="#fff"/>
<rect x="1162" y="285" width="6" height="6" fill="#00ff00"/>
<rect x="1164" y="287" width="2" height="2" fill="#fff"/>
<rect x="5" y="383" width="6" height="6" fill="#0000ff"/>
<rect x="7" y="385" width="2" height="2" fill="#fff"/>
<rect x="1162" y="383" width="6" height="6" fill="#0000ff"/>
<rect x="1164" y="385" width="2" height="2" fill="#fff"/>
<rect x="1169" y="36" width="2" height="1" fill="#000"/>
<rect x="1169" y="69" width="2" height="1" fill="#000"/>
<rect x="1169" y="102" width="2" height="1" fill="#000"/>
<rect x="1169" y="135" width="2" height="1" fill="#000"/>
<rect x="1169" y="168" width="2" height="1" fill="#000"/>
<rect x="1169" y="201" width="2" height="1" fill="#000"/>
<rect x="1169" y="234" width="2" height="1" fill="#000"/>
<rect x="1169" y="267" width="2" height="1" fill="#000"/>
<rect x="1169" y="300" width="2" height="1" fill="#000"/>
<rect x="1169" y="333" width="2" height="1" fill="#000"/>
<rect x="1169" y="366" width="2" height="1" fill="#000"/>
<rect x="1169" y="399" width="2" height="1" fill="#000"/>
<rect x="1169" y="420" width="2" height="1" fill="#000"/>
<rect x="6" y="548" width="1" height="3" fill="#000"/>
<rect x="70" y="548" width="1" height="3" fill="#000"/>
<rect x="134" y="548" width="1" height="3" fill="#000"/>
<rect x="198" y="548" width="1" height="3" fill="#000"/>
<rect x="262" y="548" width="1" height="3" fill="#000"/>
<rect x="326" y="548" width="1" height="3" fill="#000"/>
<rect x="390" y="548" width="1" height="3" fill="#000"/>
<rect x="454" y="548" width="1" height="3" fill="#000"/>
<rect x="518" y="548" width="1" height="3" fill="#000"/>
<rect x="582" y="548" width="1" height="3" fill="#000"/>
<rect x="646" y="548" width="1" height="3" fill="#000"/>
<rect x="710" y="548" width="1" height="3" fill="#000"/>
<rect x="774" y="548" width="1" height="3" fill="#000"/>
<rect x="838" y="548" width="1" height="3" fill="#000"/>
<rect x="902" y="548" width="1" height="3" fill="#000"/>
<rect x="9" y="30" width="7" height="1" fill="#000"/>
<rect x="10" y="31" width="5" height="1" fill="#000"/>
<rect x="11" y="32" width="3" height="1" fill="#000"/>
<rect x="12" y="33" width="1" height="1" fill="#000"/>
<rect x="1170" y="137" width="38" height="11" fill="#ff0000"/>
<rect x="1170" y="219" width="38" height="11" fill="#ff0000"/>
<rect x="1170" y="282" width="38" height="11" fill="#00ff00"/>
<rect x="1170" y="317" width="38" height="11" fill="#000000"/>
<rect x="1170" y="380" width="38" height="11" fill="#0000ff"/>
</g>
<text transform="translate(1174.3,40) scale(1,1.095)" font-size="9.3" fill="#000" stroke="#000" stroke-width="0.15" textLength="33" lengthAdjust="spacing">1.19210</text>
<text transform="translate(1174.3,73) scale(1,1.095)" font-size="9.3" fill="#000" stroke="#000" stroke-width="0.15" textLength="33" lengthAdjust="spacing">1.18530</text>
<text transform="translate(1174.3,106) scale(1,1.095)" font-size="9.3" fill="#000" stroke="#000" stroke-width="0.15" textLength="33" lengthAdjust="spacing">1.17850</text>
<text transform="translate(1174.3,139) scale(1,1.095)" font-size="9.3" fill="#000" stroke="#000" stroke-width="0.15" textLength="33" lengthAdjust="spacing">1.17170</text>
<text transform="translate(1174.3,172) scale(1,1.095)" font-size="9.3" fill="#000" stroke="#000" stroke-width="0.15" textLength="33" lengthAdjust="spacing">1.16490</text>
<text transform="translate(1174.3,205) scale(1,1.095)" font-size="9.3" fill="#000" stroke="#000" stroke-width="0.15" textLength="33" lengthAdjust="spacing">1.15810</text>
<text transform="translate(1174.3,238) scale(1,1.095)" font-size="9.3" fill="#000" stroke="#000" stroke-width="0.15" textLength="33" lengthAdjust="spacing">1.15130</text>
<text transform="translate(1174.3,271) scale(1,1.095)" font-size="9.3" fill="#000" stroke="#000" stroke-width="0.15" textLength="33" lengthAdjust="spacing">1.14450</text>
<text transform="translate(1174.3,304) scale(1,1.095)" font-size="9.3" fill="#000" stroke="#000" stroke-width="0.15" textLength="33" lengthAdjust="spacing">1.13770</text>
<text transform="translate(1174.3,337) scale(1,1.095)" font-size="9.3" fill="#000" stroke="#000" stroke-width="0.15" textLength="33" lengthAdjust="spacing">1.13090</text>
<text transform="translate(1174.3,370) scale(1,1.095)" font-size="9.3" fill="#000" stroke="#000" stroke-width="0.15" textLength="33" lengthAdjust="spacing">1.12410</text>
<text transform="translate(1174.3,403) scale(1,1.095)" font-size="9.3" fill="#000" stroke="#000" stroke-width="0.15" textLength="33" lengthAdjust="spacing">1.11730</text>
<g shape-rendering="crispEdges">
<rect x="1170" y="137" width="38" height="11" fill="#ff0000"/>
<rect x="1170" y="219" width="38" height="11" fill="#ff0000"/>
<rect x="1170" y="282" width="38" height="11" fill="#00ff00"/>
<rect x="1170" y="317" width="38" height="11" fill="#000000"/>
<rect x="1170" y="380" width="38" height="11" fill="#0000ff"/>
</g>
<text transform="translate(1174.3,146) scale(1,1.095)" font-size="9.3" fill="#fff" stroke="#fff" stroke-width="0.15" textLength="33" lengthAdjust="spacing">1.17001</text>
<text transform="translate(1174.3,228) scale(1,1.095)" font-size="9.3" fill="#fff" stroke="#fff" stroke-width="0.15" textLength="33" lengthAdjust="spacing">1.15313</text>
<text transform="translate(1174.3,291) scale(1,1.095)" font-size="9.3" fill="#fff" stroke="#fff" stroke-width="0.15" textLength="33" lengthAdjust="spacing">1.14016</text>
<text transform="translate(1174.3,326) scale(1,1.095)" font-size="9.3" fill="#fff" stroke="#fff" stroke-width="0.15" textLength="33" lengthAdjust="spacing">1.13306</text>
<text transform="translate(1174.3,389) scale(1,1.095)" font-size="9.3" fill="#fff" stroke="#fff" stroke-width="0.15" textLength="33" lengthAdjust="spacing">1.11999</text>
<text transform="translate(1172,415) scale(1,1.095)" font-size="9.3" fill="#000" stroke="#000" stroke-width="0.15" textLength="38.5" lengthAdjust="spacing">0.002966</text>
<text transform="translate(1172,424) scale(1,1.095)" font-size="9.3" fill="#000" stroke="#000" stroke-width="0.15" textLength="18.5" lengthAdjust="spacing">0.00</text>
<text transform="translate(1172,470) scale(1,1.095)" font-size="9.3" fill="#000" stroke="#000" stroke-width="0.15" textLength="41.5" lengthAdjust="spacing">-0.010421</text>
<text transform="translate(1172,486) scale(1,1.095)" font-size="9.3" fill="#000" stroke="#000" stroke-width="0.15">100</text>
<text transform="translate(1171.5,501) scale(1,1.095)" font-size="9.3" fill="#000" stroke="#000" stroke-width="0.15">70</text>
<text transform="translate(1171.5,529) scale(1,1.095)" font-size="9.3" fill="#000" stroke="#000" stroke-width="0.15">30</text>
<text transform="translate(1172.5,544) scale(1,1.095)" font-size="9.3" fill="#000" stroke="#000" stroke-width="0.15">0</text>
<text transform="translate(21,35) scale(1,1.095)" font-size="9.3" fill="#000" stroke="#000" stroke-width="0.15" textLength="67" lengthAdjust="spacing">EURUSD-,Daily</text>
<text transform="translate(94.3,35) scale(1,1.095)" font-size="9.3" fill="#000" stroke="#000" stroke-width="0.15" textLength="141" lengthAdjust="spacing">1.13331 1.13342 1.13277 1.13306</text>
<text transform="translate(10,417) scale(1,1.095)" font-size="9.3" fill="#000" stroke="#000" stroke-width="0.15" textLength="154" lengthAdjust="spacing">MACD(12,26,9) -0.002232 -0.003358</text>
<text transform="translate(10,488) scale(1,1.095)" font-size="9.3" fill="#000" stroke="#000" stroke-width="0.15" textLength="69" lengthAdjust="spacing">RSI(14) 50.1271</text>
<text transform="translate(4.7,560) scale(1,1.095)" font-size="9.3" fill="#000" stroke="#000" stroke-width="0.15" letter-spacing="0.15">6 Aug 2021</text>
<text transform="translate(68.7,560) scale(1,1.095)" font-size="9.3" fill="#000" stroke="#000" stroke-width="0.15" letter-spacing="0.15">16 Aug 2021</text>
<text transform="translate(132.7,560) scale(1,1.095)" font-size="9.3" fill="#000" stroke="#000" stroke-width="0.15" letter-spacing="0.15">25 Aug 2021</text>
<text transform="translate(196.7,560) scale(1,1.095)" font-size="9.3" fill="#000" stroke="#000" stroke-width="0.15" letter-spacing="0.15">3 Sep 2021</text>
<text transform="translate(260.7,560) scale(1,1.095)" font-size="9.3" fill="#000" stroke="#000" stroke-width="0.15" letter-spacing="0.15">13 Sep 2021</text>
<text transform="translate(324.7,560) scale(1,1.095)" font-size="9.3" fill="#000" stroke="#000" stroke-width="0.15" letter-spacing="0.15">22 Sep 2021</text>
<text transform="translate(388.7,560) scale(1,1.095)" font-size="9.3" fill="#000" stroke="#000" stroke-width="0.15" letter-spacing="0.15">1 Oct 2021</text>
<text transform="translate(452.7,560) scale(1,1.095)" font-size="9.3" fill="#000" stroke="#000" stroke-width="0.15" letter-spacing="0.15">11 Oct 2021</text>
<text transform="translate(516.7,560) scale(1,1.095)" font-size="9.3" fill="#000" stroke="#000" stroke-width="0.15" letter-spacing="0.15">20 Oct 2021</text>
<text transform="translate(580.7,560) scale(1,1.095)" font-size="9.3" fill="#000" stroke="#000" stroke-width="0.15" letter-spacing="0.15">29 Oct 2021</text>
<text transform="translate(644.7,560) scale(1,1.095)" font-size="9.3" fill="#000" stroke="#000" stroke-width="0.15" letter-spacing="0.15">8 Nov 2021</text>
<text transform="translate(708.7,560) scale(1,1.095)" font-size="9.3" fill="#000" stroke="#000" stroke-width="0.15" letter-spacing="0.15">17 Nov 2021</text>
<text transform="translate(772.7,560) scale(1,1.095)" font-size="9.3" fill="#000" stroke="#000" stroke-width="0.15" letter-spacing="0.15">26 Nov 2021</text>
<text transform="translate(836.7,560) scale(1,1.095)" font-size="9.3" fill="#000" stroke="#000" stroke-width="0.15" letter-spacing="0.15">6 Dec 2021</text>
<text transform="translate(900.7,560) scale(1,1.095)" font-size="9.3" fill="#000" stroke="#000" stroke-width="0.15" letter-spacing="0.15">15 Dec 2021</text>
<g shape-rendering="crispEdges">
<rect x="0" y="568" width="1208" height="1" fill="#e3e3e3"/>
<rect x="0" y="569" width="1208" height="1" fill="#ffffff"/>
<rect x="0" y="570" width="1208" height="23" fill="#f0f0f0"/>
<rect x="2" y="570" width="1206" height="1" fill="#000"/>
<rect x="3" y="571" width="1205" height="1" fill="#fff"/>
<rect x="0" y="590" width="1208" height="1" fill="#ffffff"/>
<rect x="0" y="570" width="1" height="19" fill="#f0f0f0"/>
<rect x="1" y="570" width="1" height="19" fill="#a0a0a0"/>
<rect x="2" y="571" width="1" height="18" fill="#696969"/>
<rect x="106" y="571" width="1" height="19" fill="#fff"/>
<rect x="215" y="571" width="1" height="19" fill="#fff"/>
<rect x="107" y="569" width="108" height="20" fill="#fff"/>
<rect x="107" y="570" width="1" height="19" fill="#000"/>
<rect x="214" y="570" width="1" height="19" fill="#000"/>
<rect x="107" y="588" width="108" height="1" fill="#000"/>
<rect x="323" y="573" width="1" height="14" fill="#5a5a5a"/>
<rect x="419" y="573" width="1" height="14" fill="#5a5a5a"/>
<rect x="527" y="573" width="1" height="14" fill="#5a5a5a"/>
<rect x="639" y="573" width="1" height="14" fill="#5a5a5a"/>
<rect x="735" y="573" width="1" height="14" fill="#5a5a5a"/>
<rect x="815" y="573" width="1" height="14" fill="#5a5a5a"/>
<rect x="903" y="573" width="1" height="14" fill="#5a5a5a"/>
<rect x="987" y="573" width="1" height="14" fill="#5a5a5a"/>
</g>
<text transform="translate(18,585) scale(1,1.085)" font-size="12" fill="#6d6d6d" stroke="#6d6d6d" stroke-width="0.0" textLength="78.5" lengthAdjust="spacing">USDX,Weekly</text>
<text transform="translate(118.3,585) scale(1,1.085)" font-size="12" fill="#000" stroke="#000" stroke-width="0.0" textLength="85" lengthAdjust="spacing">EURUSD-,Daily</text>
<text transform="translate(225.3,585) scale(1,1.085)" font-size="12" fill="#6d6d6d" stroke="#6d6d6d" stroke-width="0.0" textLength="87" lengthAdjust="spacing">AUDUSD-,Daily</text>
<text transform="translate(335,585) scale(1,1.085)" font-size="12" fill="#6d6d6d" stroke="#6d6d6d" stroke-width="0.0" textLength="73" lengthAdjust="spacing">USDCHF-,H4</text>
<text transform="translate(430,585) scale(1,1.085)" font-size="12" fill="#6d6d6d" stroke="#6d6d6d" stroke-width="0.0" textLength="86" lengthAdjust="spacing">USDCAD-,Daily</text>
<text transform="translate(539,585) scale(1,1.085)" font-size="12" fill="#6d6d6d" stroke="#6d6d6d" stroke-width="0.0" textLength="88.5" lengthAdjust="spacing">USDCNH-,Daily</text>
<text transform="translate(650.3,585) scale(1,1.085)" font-size="12" fill="#6d6d6d" stroke="#6d6d6d" stroke-width="0.0" textLength="74" lengthAdjust="spacing">XAUUSD-,H4</text>
<text transform="translate(746,585) scale(1,1.085)" font-size="12" fill="#6d6d6d" stroke="#6d6d6d" stroke-width="0.0" textLength="58" lengthAdjust="spacing">UKOil-,H4</text>
<text transform="translate(827,585) scale(1,1.085)" font-size="12" fill="#6d6d6d" stroke="#6d6d6d" stroke-width="0.0" textLength="64.5" lengthAdjust="spacing">DJ30-,Daily</text>
<text transform="translate(914.3,585) scale(1,1.085)" font-size="12" fill="#6d6d6d" stroke="#6d6d6d" stroke-width="0.0" textLength="62" lengthAdjust="spacing">UK100-,H1</text>
<polygon points="1187.5,575.8 1187.5,582.2 1183.6,579" fill="#9a9a9a"/>
<polygon points="1203,575.8 1203,582.2 1206.9,579" fill="#9a9a9a"/>
</svg>
</body></html>
